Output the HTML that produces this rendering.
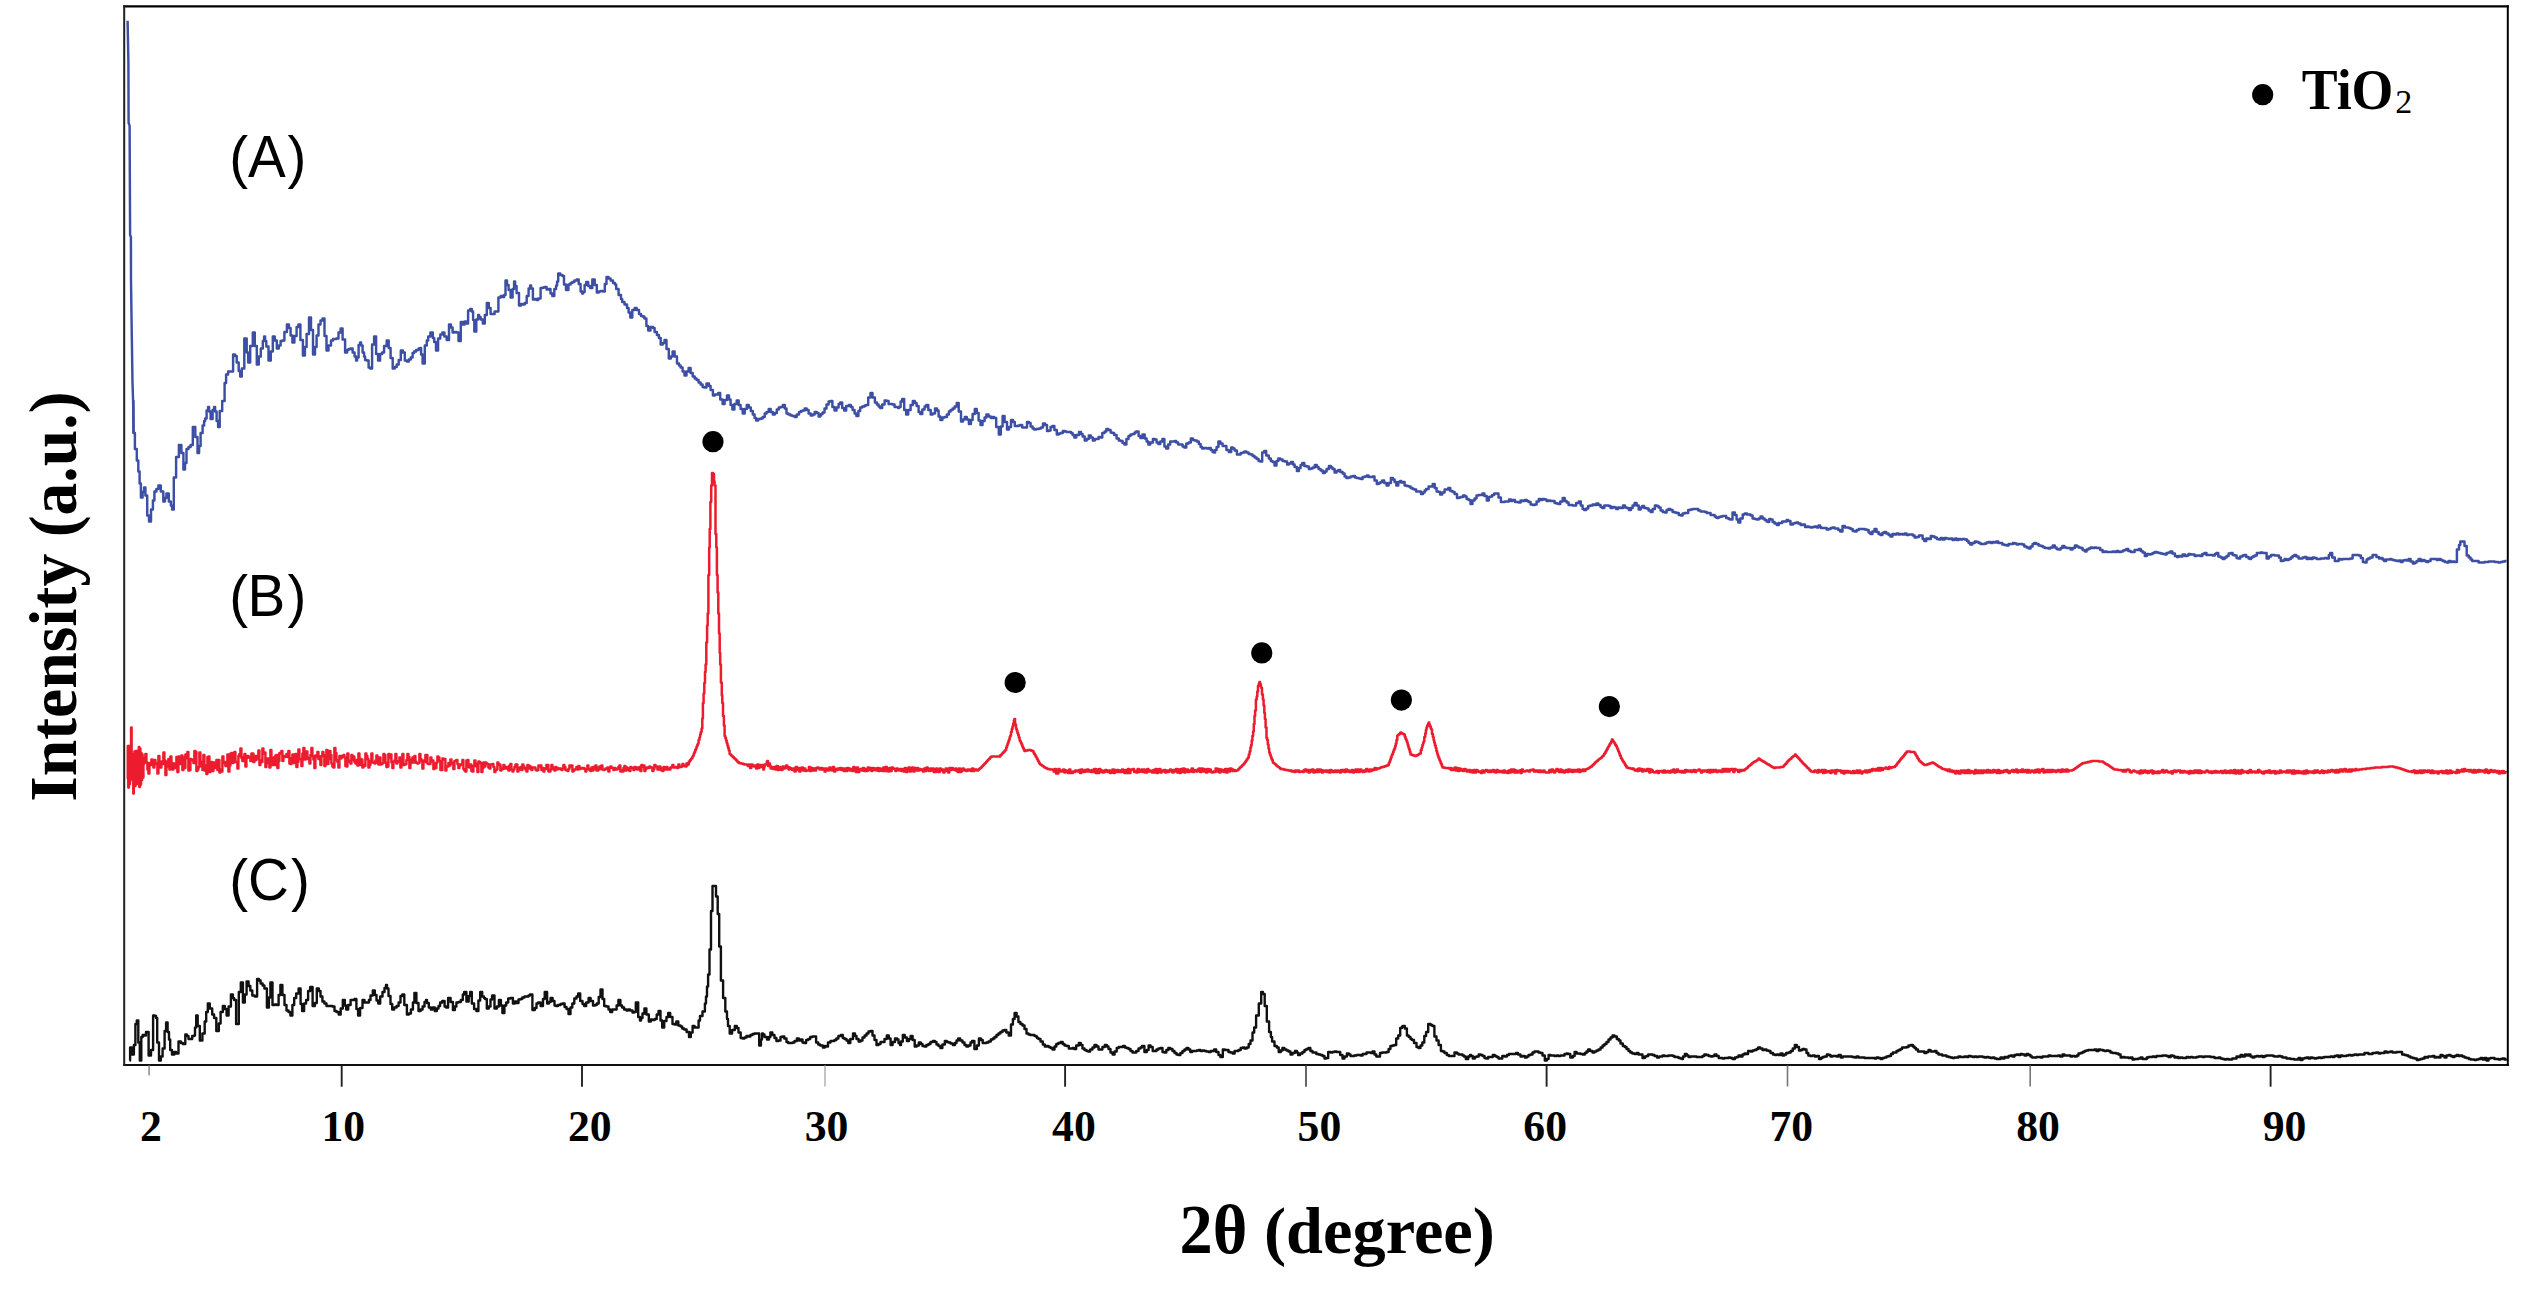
<!DOCTYPE html>
<html><head><meta charset="utf-8"><title>XRD</title>
<style>
html,body{margin:0;padding:0;background:#fff;}
body{width:2538px;height:1291px;overflow:hidden;position:relative;}
svg{position:absolute;left:0;top:0;display:block;}
</style></head><body>
<svg width="2538" height="1291" viewBox="0 0 2538 1291"><polyline fill="none" stroke="#3d4fa4" stroke-width="2.45" stroke-linejoin="round" points="127.6,20.8 128.4,62.8 128.6,123 129.6,125.6 130.1,235 130.9,237 131,280 131.5,316.3 132.5,382.7 133.1,400.8 133.7,433"/><path fill="none" stroke="#3d4fa4" stroke-width="2.45" stroke-linejoin="round" d="M133.1,401H133.4V433H134.9V449H136.8V460.5H138.3V471.5H139.6V483.5H140.9V497.5H142.6V492H144.1V487.5H145.4V495.5H147.2V515.5H149V521.5H151V509.5H152.9V500.5H154.4V491.5H156.4V489H158.4V485.5H160.8V491.5H163.3V501.5H164.9V498H166.4V493.5H168.8V501.5H170.9V505.5H172.1V509.5H173.8V477.5H176.1V457H178.9V445H181.4V453H183.4V469.5H185V463H186.5V449H188.5V447H190.6V445H192.8V427H195.3V437H197.5V453H199.1V446H200.6V433H202.6V425.5H204.1V421H205.1V418.5H206.6V410.5H208.1V407H209.1V411.5H210.6V419H212.6V410H214.1V407H215.1V411.5H216.6V421H218.1V427H219.7V411H222.2V401H224.6V383H226.1V374.5H228.1V371.5H230.6V371.5H233.1V354.5H235V356H236.7V362.5H238.7V371H240.2V376.5H241.8V368.5H244.3V338.5H246.7V352.5H248.2V362.5H250.2V346H252.8V332.5H254.8V346H256.8V364.5H258.8V356.5H260.8V348.5H262.8V341H264.1V336.5H265.1V341H266.3V346.5H268.5V360.5H270.8V351.5H272.8V336.5H274.8V340.5H276.8V348.5H278.8V345.5H280.6V341H282.4V340.5H284.4V332H286.9V324.5H288.9V328H290.6V335.5H292.4V342.5H294.4V336H296.6V327H298.4V324.5H300.4V340H302.9V355.5H304.9V347H306.6V334H309V317.5H311V330H313V354.5H315V347H316.6V335.5H318.5V324.5H320.5V320.5H322.5V318.5H324.5V336H326.5V350.5H328.5V345.5H331V340.5H333V339H334.6V339H336.5V338.5H338.5V332.5H340.6V328.5H342.6V339.5H345.1V352.5H347.1V350H348.6V349H350.6V348.5H352.6V352.5H354.6V356.5H356.1V360.5H357.1V357.5H358.6V345H360.1V342.5H361.1V345.5H362.6V352.5H364.1V356.5H365.1V360H366.6V360.5H368.6V367.5H370.1V368.5H372.1V344.5H374.1V336.5H376.1V354H378.1V360.5H380.1V354H382.1V352.5H384.1V346H386.7V340.5H388.7V348H390.6V358H392.7V368.5H394.7V367H396.7V364.5H398.7V360H400.8V350.5H402.8V352.5H404.8V360.5H406.8V361.5H408.8V359.5H410.8V357.5H412.6V353H414.1V351.5H416.1V350H418.6V348.5H420.1V348H421.1V354.5H422.6V363.5H424.8V345.5H426.8V340.5H428.2V336.5H430.4V332.5H432.8V338H434.2V342H436V350.5H438.1V338.5H440.3V334.5H442.4V332.5H444.4V336.5H446.7V340H449V324.5H450.9V327.5H452.6V332.5H454.6V332H456.5V332.5H458.5V341H460.8V322H462.8V324.5H464.6V321.5H466.1V323.5H468.1V310.5H470.2V309H471.8V311.5H473.1V320H474.3V331.5H476.3V319.5H478.1V315H479.1V317H480.6V319.5H482.8V323.5H484.8V315H486.8V303H488.8V308H490.6V314H492.6V314H494.6V311.5H496.2V311.5H498.4V297.5H500.7V296H502.6V297H504.1V295H505.5V280.5H507V285H508.6V290H510.6V297.5H512.6V289H514.1V281.5H515.1V286H516.6V293H519V305.5H521V304H522.6V304.5H524.7V303H526.7V296H528.6V288.5H530.1V285.5H531.1V288.5H532.9V299.5H534.9V299H536.6V300H538.2V298.5H540.6V288H543V287.5H544.6V287H546.6V289.5H548.5V289H550.5V293.5H552.3V296H554.3V289H556.1V285.5H557.1V281.5H558.2V273.5H560.2V275H562.4V276H564V284.5H566V290H568.4V284.5H570.6V283H572.4V282H574.4V280.5H576.7V279.5H578.7V284H580.6V291.5H582.1V293.5H583.1V292H584.6V285H586.2V282H588.2V286H590.2V288H592.3V279.5H594.7V285H596.8V292.5H598.8V291.5H600.6V291H602.8V291.5H604.8V284H606.5V277H608.5V278.5H610.6V280.5H613V283H615V284.5H616.2V289H618.6V295H621V299H622.2V302H624.5V304.5H627V308H628.6V312.5H630.3V317.5H632.3V310H634.7V308H636.7V310H639V314H641V316H642.6V316.5H644.4V318.5H646.4V326H648.2V330.5H650.5V327H653V328H654.6V332H656.9V335H658.9V338H660.7V344.5H662.7V343H664.5V340H666.5V349H668.8V358.5H670.8V356.5H672.6V351.5H674.6V356.5H677V363.5H679V365.5H680.6V367.5H682.6V371.5H684.5V375.5H686.5V371.5H688.6V368H690.6V373H692.7V376.5H694.7V378.5H696.6V380H698.6V382.5H700.6V384.5H702.6V387H704.2V387.5H706.5V383.5H709V386H710.6V390H712.9V395.5H714.9V394.5H716.6V394.5H718.2V393H720.2V399.5H722.6V404H724.6V400H727V395.5H729V399.5H730.6V405H732.4V409.5H734.4V404H736.7V400.5H738.7V405H740.6V409H742.7V413.5H744.7V409H746.8V405H748.8V407.5H750.8V411H752.8V414.5H754.6V418H756.2V420.5H758.2V419H760.6V418.5H762.7V417H764.7V413.5H766.6V412H768.7V409H770.7V412H772.8V414.5H774.8V413H776.8V409.5H778.8V407.5H780.6V407H782.8V405H784.8V408.5H786.5V413.5H788.5V414.5H790.6V415.5H792.6V416H794.7V417H796.7V414.5H799V412H801V411H802.6V410.5H804.7V408.5H806.7V410H808.6V413.5H810.7V415.5H812.7V414.5H814.7V412H816.7V413H818.6V416.5H820.1V415.5H821.1V414H822.6V412.5H824.5V408.5H826.5V404.5H828.6V401.5H830.4V401H832.4V407H834.5V410.5H836.5V407.5H838.6V404H840.2V402.5H842.2V408H844.2V410.5H846.2V406H848.9V405H850.9V407H852.6V410H854.6V413.5H856.4V416H858.4V411H860.2V407.5H862.2V406.5H864.6V405.5H866.2V405H868.2V397.5H870.5V393H872.5V397.5H874.9V402.5H876.9V404.5H878.6V406.5H880.2V408H882.2V404.5H884.6V400.5H886.6V401H888.6V404H890.5V404H892.5V404.5H894.6V407H896.6V407H898.1V408H899.1V407H900.6V401.5H902.2V399H904.2V410H906.2V414.5H908.2V410H910.6V405H912.8V401H914.8V403H916.6V406H918.6V412H920.3V414H922.3V409.5H924.6V406.5H926.3V405H928.3V410H930.7V414.5H932.7V413.5H935V408.5H937V410.5H938.6V416.5H940.4V420H942.4V417.5H944.6V417H946.9V414.5H948.9V411.5H950.6V410H952.6V408.5H954.6V406.5H956.7V403H958.7V411.5H961V421.5H963V419.5H964.8V417H966.8V419.5H968.9V424H970.9V420H972.6V414H974.8V409H976.8V413H978.6V420.5H980.5V425H982.5V421H984.6V417.5H986.4V414.5H988.6V416.5H990.8V418H992.6V417H994.2V418H996.2V427H998.8V434.5H1000.8V426.5H1002.6V416H1004.6V422H1007V429.5H1009V427H1011V420H1013V422H1014.8V426H1016.8V426H1018.6V425.5H1020.2V425H1022.2V427.5H1024.5V427.5H1027V422H1029V423H1030.6V426.5H1032.6V428.5H1034.2V429.5H1036.2V429H1038.9V428.5H1040.9V427.5H1043V423.5H1045V425H1047V431H1049V430.5H1050.6V427H1052.4V426H1054.4V430H1056.8V434.5H1058.8V433.5H1060.6V433H1062.8V431H1064.8V431.5H1066.6V432H1069V432H1071V433H1072.6V435H1074.3V437.5H1076.3V435H1079V432H1081V434H1082.6V436.5H1084.7V440.5H1086.7V439H1088.8V435.5H1090.8V437.5H1092.8V440.5H1094.8V439H1096.6V439H1098.6V437H1100.3V437.5H1102.3V433H1104.6V431.5H1106.3V429H1108.3V430H1110.6V432.5H1112.2V433H1114.2V435H1116.6V438.5H1118.8V440.5H1120.8V441H1122.6V443H1124.4V444.5H1126.4V439H1128.5V436H1130.5V434.5H1132.6V434H1134.6V432.5H1136.1V431.5H1137.1V431.5H1138.6V436H1140.4V438H1142.5V434.5H1144.7V438.5H1146.6V441.5H1148.3V444.5H1150.3V442.5H1152.9V439H1154.9V439.5H1156.6V442.5H1158.3V444H1160.3V441.5H1162.4V439H1164.4V446.5H1166.2V448.5H1168.2V444.5H1170.2V441.5H1172.2V441.5H1174.6V441H1176.2V442.5H1178.2V444.5H1180.6V444.5H1182.6V446.5H1184.3V447.5H1186.3V443.5H1188.6V442.5H1190.8V438.5H1192.8V440H1194.6V440.5H1196.8V441.5H1198.8V444H1200.6V447H1202.2V448.5H1204.2V448H1206.6V448.5H1208.8V448H1210.8V450H1212.6V452H1214.1V452.5H1215.1V450H1216.6V447H1218.4V441.5H1220.4V443.5H1222.6V446H1224.4V446H1226.4V450H1228.8V452H1231.2V447.5H1232.9V448.5H1234.6V450.5H1236.9V454.5H1238.9V454.5H1240.6V453H1242.6V452.5H1244.4V451.5H1246.4V452.5H1248.6V454H1250.6V454.5H1252.6V456H1254.6V457.5H1256.6V459H1258.6V461H1260.2V461.5H1262.2V452.5H1264.2V451H1266.2V455.5H1268.8V458.5H1270.8V461H1272.6V462H1274.5V465.5H1276.5V461H1278.3V458.5H1280.3V459.5H1282.6V461H1284.8V461.5H1287.1V464.5H1288.9V463.5H1291V462H1293V464.5H1294.6V467H1296.9V471H1298.9V468H1300.6V465H1302.3V463H1304.3V466H1306.6V466.5H1308.8V469H1310.8V468.5H1312.6V467.5H1314.8V465H1316.8V467H1318.6V469H1320.6V470.5H1322.9V473H1324.9V471.5H1326.6V469H1328.9V466H1330.9V467.5H1332.6V469H1334.6V472.5H1336.6V471H1338.3V470H1340.3V472H1342.6V473.5H1344.6V476.5H1346.5V478H1348.5V477.5H1350.6V476.5H1353V476H1355V477.5H1356.6V478H1359V478.5H1361V479H1362.6V477H1364.9V476.5H1366.9V475.5H1368.6V477H1370.6V477H1372.5V476.5H1374.5V480.5H1376.8V484H1378.8V483H1380.6V482H1382.2V480.5H1384.2V483H1386.6V485.5H1388.6V483H1390.9V478H1392.9V479.5H1394.6V482H1396.3V485.5H1398.3V482H1400.1V481H1401.1V482.5H1402.6V482H1404.6V485.5H1406.7V486H1408.7V486.5H1410.6V488H1412.6V489H1414.2V489.5H1416.2V491.5H1418.6V491.5H1421V494H1423V492.5H1424.6V490.5H1426.1V489H1427.1V489H1428.6V486.5H1430.6V486.5H1432.7V484H1434.7V488H1436.6V491.5H1438.6V492H1440.2V494.5H1442.2V492.5H1444.6V489.5H1446.6V489.5H1448.3V488H1450.3V491H1452.6V492H1454.6V494H1457V498H1459V497.5H1460.6V497H1463V495.5H1465V496.5H1466.6V499H1468.6V500H1470.5V504H1472.5V500.5H1474.6V498.5H1476.5V495.5H1478.5V495H1480.6V495H1482.4V493.5H1484.4V496H1486.8V500.5H1488.8V497H1490.6V496.5H1492.2V495H1494.2V493.5H1496.5V493.5H1498.5V497.5H1500.9V502H1502.9V502H1504.6V501.5H1506.6V501.5H1509V499.5H1511V501H1512.6V500H1515V502H1517V502H1518.6V502.5H1520.6V500.5H1522.6V501H1524.8V500H1526.8V501H1528.6V502H1530.6V504.5H1532.8V505H1534.8V504.5H1536.6V501.5H1538.8V499H1540.8V500H1542.6V499H1544.6V499.5H1546.6V501H1548.5V500.5H1550.5V501H1552.6V501H1554.6V503H1556.6V503.5H1558.3V504H1560.3V501.5H1562.7V498H1564.7V501H1566.6V502.5H1568.6V505H1570.6V505H1572.6V505.5H1574.2V505.5H1576.2V503H1578.8V501.5H1580.8V505.5H1582.6V509H1584.2V510H1586.2V508.5H1588.2V506H1590.2V505.5H1592.6V504.5H1594.6V505H1596.4V503.5H1598.4V505H1600.6V507H1602.3V508H1604.3V505.5H1606.7V505.5H1608.7V506H1610.6V508H1612.6V507H1614.6V507.5H1616.2V509H1618.2V507.5H1620.6V508H1623V505.5H1625V507.5H1626.6V508H1628.9V510H1630.9V508H1632.6V505.5H1634.6V503H1636.6V505.5H1638.7V509.5H1640.7V507.5H1642.2V506H1644.2V508H1646.6V508.5H1648.6V510.5H1650.6V512H1652.6V509H1654.9V505.5H1656.9V506H1658.6V507.5H1660.6V510.5H1662.8V512H1664.8V512.5H1666.6V510H1668.4V509H1670.4V510H1672.6V512H1674.6V512.5H1676.6V513H1678.8V515H1680.8V515.5H1682.6V513.5H1684.6V513H1686.3V513H1688.2V510H1690.5V509.5H1692.6V509H1694.6V509H1696.3V509H1698.3V510.5H1700.6V511.5H1702.6V511.5H1704.8V512H1706.8V513H1708.6V513H1710.6V515H1712.6V515H1714.6V516.5H1716.1V517.5H1717.1V518H1718.6V517H1720.6V516.5H1722.6V516H1724.2V516H1726.2V518H1728.6V519H1730.2V519.5H1732.5V512.5H1734.9V515H1736.6V519.5H1738.3V522.5H1740.3V518.5H1742.7V514.5H1744.7V513.5H1747V514.5H1749V514.5H1750.6V515.5H1752.6V518.5H1754.6V519H1756.8V519.5H1758.8V518.5H1760.5V516.5H1762.5V518.5H1764.6V520H1766.6V521.5H1768.1V522H1769.2V519H1770.7V519.5H1772.6V522H1774.6V523.5H1776.8V525H1778.8V523H1780.6V523H1782.2V521.5H1784.2V521.5H1786.6V520H1788.2V521H1790.5V524.5H1792.9V523.5H1794.6V523H1796.3V522.5H1798.3V523.5H1800.6V525H1802.6V524.5H1805V527H1807V526.5H1808.6V527H1810.6V527.5H1812.6V527H1814.6V526.5H1816.6V527.5H1818.6V525.5H1820.1V527H1821.1V528H1822.6V528H1824.6V528H1826.7V529.5H1828.7V529H1830.6V528H1832.6V527.5H1834.6V528.5H1836.3V528.5H1838.3V530H1840.2V531.5H1842.5V526H1844.9V527.5H1846.6V527.5H1848.6V528H1850.6V529H1852.7V531H1854.7V531.5H1856.6V530H1858.8V529H1860.8V529H1862.6V529H1864.8V529.5H1866.8V530H1868.6V532.5H1870.4V534H1872.4V531.5H1874.5V529H1876.5V532H1878.6V534H1880.4V535H1882.4V533H1884.2V532H1886.2V533.5H1888.6V535H1890.4V536.5H1892.4V534H1894.5V534.5H1896.5V533.5H1898.6V534.5H1900.6V534H1902.6V534.5H1904.6V533.5H1906.6V535H1908.6V534.5H1910.8V534.5H1912.8V535.5H1914.6V537.5H1916.6V537H1918.9V535.5H1920.9V535.5H1922.6V539H1924.3V541H1926.3V538.5H1928.6V539H1930.8V536H1932.8V536.5H1934.6V537.5H1936.8V539H1938.8V539.5H1940.6V538H1942.6V539.5H1944.6V538H1946.5V538.5H1948.5V539H1950.6V538.5H1952.6V540H1954.1V539.5H1955.1V538.5H1956.6V540H1958.6V539H1960.6V539.5H1962.6V539H1965V539.5H1967V541H1968.6V543H1970.3V544.5H1972.3V543H1974.7V541.5H1976.7V542H1978.6V543H1980.6V544H1982.8V544H1984.8V543.5H1986.6V542.5H1988.6V542H1990.6V543H1992.6V542H1994.6V542.5H1996.3V541.5H1998.3V543H2000.6V543H2002.3V544.5H2004.3V545H2006.6V545.5H2008.6V544H2011V544H2013V543H2014.6V543.5H2016.6V544.5H2018.6V544H2020.6V544H2022.3V544.5H2024.3V546.5H2026.6V547.5H2028.6V548.5H2030.6V546.5H2032.6V544H2034.2V543H2036.2V544H2038.6V545.5H2040.8V546H2042.8V547H2044.6V548H2046.6V548H2048.3V548.5H2050.3V547.5H2052.8V545.5H2054.8V547.5H2056.6V549H2058.1V549.5H2059.1V549.5H2060.6V548H2062.4V546H2064.4V547.5H2066.6V548H2068.6V548H2070.6V549.5H2072.6V548H2074.9V545.5H2076.9V546.5H2078.6V547.5H2080.6V548H2082.6V550H2084.1V550.5H2085.1V551.5H2086.6V549.5H2088.6V548.5H2090.6V547.5H2092.6V548H2094.6V547.5H2096.6V548H2098.2V548H2100.2V550H2102.6V552H2104.6V551.5H2106.6V552H2108.6V552H2110.6V552H2112.6V551.5H2114.6V552H2116.6V551H2118.6V552H2121V551.5H2123V550.5H2124.6V550H2126.3V549H2128.3V551H2130.8V552H2132.8V552H2134.6V550H2136.6V550H2138.8V549H2140.8V551H2142.6V552.5H2144.8V556H2146.8V554H2148.8V554.5H2150.8V554H2152.6V553H2154.7V552H2156.7V552.5H2158.6V553H2160.6V553.5H2162.6V554H2164.1V554H2165.1V554.5H2166.6V553H2168.6V552.5H2170.3V551.5H2172.3V553.5H2174.9V556H2176.9V557H2178.6V556H2180.6V556.5H2182.6V554.5H2185V556H2187V555.5H2188.5V554H2190.5V554.5H2192.6V554.5H2194.6V556H2196.6V555.5H2198.6V555.5H2200.3V556H2202.3V554H2204.5V553H2206.5V555H2208.6V555H2210.6V555H2212.8V555.5H2214.8V554H2216.3V553H2218.3V556.5H2220.6V557.5H2222.6V559H2224.6V557.5H2226.6V556H2228.6V553.5H2230.6V553H2232.6V555H2234.6V555.5H2236.6V558H2238.2V558.5H2240.2V556.5H2242.6V555.5H2244.2V555H2246.2V557H2248.6V558.5H2250.1V559H2251.1V557.5H2252.6V556.5H2254.6V555.5H2256.8V553H2258.8V553H2260.6V552.5H2262.6V553H2264.4V553H2266.6V558.5H2268.8V556.5H2271.1V555H2273.1V555H2274.6V555.5H2276.9V555.5H2278.9V557.5H2280.8V561H2282.8V560.5H2284.6V559H2286.6V560H2288.8V559H2290.8V557.5H2292.6V556H2294.3V555H2296.3V556.5H2298.6V558.5H2300.6V558.5H2302.6V557.5H2304.6V557H2306.6V559H2308.6V558H2310.6V559H2312.6V557.5H2314.6V558H2316.6V559H2318.6V559H2320.6V558.5H2322.6V558.5H2324.6V558H2326.8V558.5H2328.8V555H2330.2V553H2332.2V557.5H2334.8V561H2336.8V561H2338.6V559H2340.6V559.5H2342.6V559H2344.6V559H2346.6V559H2348.6V559H2350.4V558.5H2352.6V555H2354.8V555H2356.6V555H2358.8V555.5H2360.8V558H2362.9V562H2364.9V562.5H2366.6V559.5H2368.1V558.5H2370.1V557.5H2372.6V555H2374.4V555H2376.4V557H2379V558.5H2381V558H2382.6V559.5H2384.1V561H2386.1V559.5H2388.6V559.5H2390.1V559H2391.1V559.5H2392.6V560H2394.6V560.5H2396.7V561H2398.7V560.5H2400.6V562H2402.6V560.5H2404.6V560H2406.6V560.5H2408.6V559H2410.6V561.5H2412.8V563.5H2414.8V562.5H2416.6V561H2418.6V559H2420.6V561H2422.6V560H2424.6V561H2426.3V562H2428.3V561H2430.6V559H2432.6V559H2434.7V559H2436.7V560H2438.6V559H2440.6V560H2442.6V561H2444.8V562H2446.8V562.5H2448.6V561H2450.6V562H2452.6V561.5H2454.5V562H2456.9V549.5H2459V545H2460.3V541.5H2462.2V541.5H2464.5V546H2466.7V555.5H2468.7V557.5H2470.6V559.5H2472.2V561H2474.2V561H2476.6V561H2478.6V562.5H2480.6V562.5H2482.6V562.5H2484.4V562H2486.4V562H2488.6V561.5H2490.6V561.5H2492.6V561.5H2494.6V562H2496.3V562H2498.3V562.5H2500.6V562H2502.6V561.5H2505.1V561H2506.5"/><path fill="none" stroke="#ec1c2e" stroke-width="2.5" stroke-linejoin="round" d="M127.5,779H127.8V746H128.3V787.5H128.9V746H129.4V784H130V754H130.5V778.5H131.1V727.5H131.6V779H132.2V754H132.7V780.5H133.3V793.5H133.8V782.5H134.4V751.5H134.9V786H135.5V751H136V784H136.6V751H137.1V784H137.7V751.5H138.2V780.5H138.8V747H139.3V787H139.9V748.5H140.4V784.5H141V753H141.5V780H142.1V754.5H142.6V777.5H143.4V763.5H144.4V758H145.4V754H146.4V762.5H147.4V769.5H148.4V773.5H149.4V763H150.4V765H151.4V759.5H152.4V760H153.4V767.5H154.4V760H155.4V763H156.4V764H157.4V773.5H158.4V756H159.4V765.5H160.4V767.5H161.4V761.5H162.4V764H163.4V752.5H164.4V760.5H165.4V775H166.4V766.5H167.4V761.5H168.4V759H169.4V769.5H170.4V756.5H171.4V763H172.4V769.5H173.4V763.5H174.4V768H175.4V766H176.4V757H177.4V772H178.4V756.5H179.4V757.5H180.4V764H181.4V755.5H182.4V770H183.4V757.5H184.4V768H185.4V754.5H186.4V758H187.4V752H188.4V770.5H189.4V770H190.4V759H191.4V759.5H192.4V760H193.4V763H194.4V751H195.4V752H196.4V771H197.4V769.5H198.4V767H199.4V752.5H200.4V766H201.4V762H202.4V770H203.4V755H204.4V770.5H205.4V765.5H206.4V774H207.4V757H208.4V756.5H209.4V772H210.4V770H211.4V762H212.4V771H213.4V765.5H214.4V762.5H215.4V768H216.4V760H217.4V770H218.4V760H219.4V772.5H220.4V769.5H221.4V771.5H222.4V756.5H223.4V763H224.4V762H225.4V766H226.4V763.5H227.4V754.5H228.4V771.5H229.4V765.5H230.4V753.5H231.4V753H232.4V763H233.4V760H234.4V752H235.4V762H236.4V762H237.4V768.5H238.4V756H239.4V754H240.4V748.5H241.4V758H242.4V761H243.4V757H244.4V754H245.4V766.5H246.4V758H247.4V756H248.4V757.5H249.4V757H250.4V761H251.4V753.5H252.4V753.5H253.4V762H254.4V756H255.4V760H256.4V756H257.4V758.5H258.4V750.5H259.4V765H260.4V760.5H261.4V762H262.4V748.5H263.4V753.5H264.4V752.5H265.4V767H266.4V763H267.4V758.5H268.4V759.5H269.4V767.5H270.4V750H271.4V758H272.4V765H273.4V757.5H274.4V765H275.4V755.5H276.4V755H277.4V768H278.4V761H279.4V753H280.4V753.5H281.4V751H282.4V761H283.4V756H284.4V757H285.4V756H286.4V754H287.4V757H288.4V751H289.4V763.5H290.4V764H291.4V758H292.4V754.5H293.4V763H294.4V755.5H295.4V754H296.4V767H297.4V762H298.4V749.5H299.4V759H300.4V759H301.4V766H302.4V753.5H303.4V748H304.4V759.5H305.4V757.5H306.4V751.5H307.4V759H308.4V758H309.4V763.5H310.4V755H311.4V748H312.4V756H313.4V759.5H314.4V768H315.4V755.5H316.4V756.5H317.4V752H318.4V759H319.4V756.5H320.4V765H321.4V756H322.4V752H323.4V755H324.4V766H325.4V762.5H326.4V750H327.4V764H328.4V759H329.4V751H330.4V755H331.4V763.5H332.4V766.5H333.4V767.5H334.4V748H335.4V753H336.4V760H337.4V762H338.4V767.5H339.4V756H340.4V758.5H341.4V756H342.4V757H343.4V755H344.4V757.5H345.4V766H346.4V766.5H347.4V753.5H348.4V760.5H349.4V761.5H350.4V763.5H351.4V755H352.4V760H353.4V756.5H354.4V762H355.4V763.5H356.4V760H357.4V765.5H358.4V753.5H359.4V758.5H360.4V765H361.4V759.5H362.4V767.5H363.4V765H364.4V766H365.4V753.5H366.4V756H367.4V759H368.4V767.5H369.4V765H370.4V761H371.4V753.5H372.4V762.5H373.4V762.5H374.4V763.5H375.4V760.5H376.4V755.5H377.4V762.5H378.4V764.5H379.4V757.5H380.4V764.5H381.4V764H382.4V763H383.4V754H384.4V755H385.4V762.5H386.4V767H387.4V766.5H388.4V754H389.4V758H390.4V754.5H391.4V762.5H392.4V768H393.4V761.5H394.4V760.5H395.4V754H396.4V763.5H397.4V761.5H398.4V761H399.4V757.5H400.4V767.5H401.4V760H402.4V754H403.4V765H404.4V764.5H405.4V764H406.4V760H407.4V754H408.4V757H409.4V768H410.4V763H411.4V759.5H412.4V757.5H413.4V762.5H414.4V756H415.4V761.5H416.4V763H417.4V763.5H418.4V763H419.4V754H420.4V759H421.4V761H422.4V768.5H423.4V760.5H424.4V762H425.4V755H426.4V755H427.4V763.5H428.4V764H429.4V764H430.4V757.5H431.4V761.5H432.4V760.5H433.4V769H434.4V763.5H435.4V768H436.4V762.5H437.4V756.5H438.4V757.5H439.4V761H440.4V770H441.4V770H442.4V758.5H443.4V759.5H444.4V759H445.4V770.5H446.4V766.5H447.4V766.5H448.4V763H449.4V765.5H450.4V759.5H451.4V763.5H452.4V763H453.4V769H454.4V761H455.4V760.5H456.4V760H457.4V764H458.4V768H459.4V765.5H460.4V764.5H461.4V764H462.4V760H463.4V769H464.4V770.5H465.4V771.5H466.4V760.5H467.4V760H468.4V767H469.4V767.5H470.4V764.5H471.4V771H472.4V771.5H473.4V766H474.4V760.5H475.4V763.5H476.4V766.5H477.4V772H478.4V761.5H479.4V762H480.4V763H481.4V772H482.4V768H483.4V762.5H484.4V766.5H485.4V762.5H486.4V763.5H487.4V764H488.4V767.5H489.4V768.5H490.4V764.5H491.4V764.5H492.4V764H493.4V767H494.4V772H495.4V770H496.4V769.5H497.4V762.5H498.4V765H499.4V764.5H500.4V770.5H501.4V768H502.4V769H503.4V765H504.4V768.5H505.4V767H506.4V768.5H507.4V767H508.4V770.5H509.4V765.5H510.4V764H511.4V769.5H512.4V771.5H513.4V769.5H514.4V767H515.4V764.5H516.4V764.5H517.4V771.5H518.4V768H519.4V769.5H520.4V767H521.4V770H522.4V764.5H523.4V766.5H524.4V768H525.4V769.5H526.4V771.5H527.4V765H528.4V768.5H529.4V766H530.4V767H531.4V770H532.4V767.5H533.4V767.5H534.4V767.5H535.4V769.5H536.4V770.5H537.4V770H538.4V765.5H539.4V766.5H540.4V765.5H541.4V770H542.4V768H543.4V771.5H544.4V768.5H545.4V769H546.4V765H547.4V765H548.4V771.5H549.4V771.5H550.4V769.5H551.4V765H552.4V767.5H553.4V769H554.4V770.5H555.4V767H556.4V769.5H557.4V768H558.4V768.5H559.4V769H560.4V768.5H561.4V770H562.4V768.5H563.4V765H564.4V767H565.4V770H566.4V770H567.4V771H568.4V769H569.4V765.5H570.4V766.5H571.4V765.5H572.4V771.5H573.4V770.5H574.4V769.5H575.4V769H576.4V767H577.4V769.5H578.4V766H579.4V769H580.4V768H581.4V768H582.4V768.5H583.4V768H584.4V769H585.4V771.5H586.4V769H587.4V765.5H588.4V769H589.4V770H590.4V771H591.4V767.5H592.4V770.5H593.4V767H594.4V769H595.4V765.5H596.4V770.5H597.4V770.5H598.4V767.5H599.4V766.5H600.4V769H601.4V765.5H602.4V769.5H603.4V770H604.4V769.5H605.4V768.5H606.4V769H607.4V767.5H608.4V771.5H609.4V768H610.4V766.5H611.4V767.5H612.4V768H613.4V770H614.4V768H615.4V769H616.4V769.5H617.4V768.5H618.4V767H619.4V765.5H620.4V771.5H621.4V770.5H622.4V771.5H623.4V768H624.4V766H625.4V770.5H626.4V767.5H627.4V770H628.4V768.5H629.4V771H630.4V767H631.4V768H632.4V768H633.4V770H634.4V767H635.4V769H636.4V767.5H637.4V769.5H638.4V769H639.4V767H640.4V771H641.4V765H642.4V767H643.4V765.5H644.4V771H645.4V769H646.4V767.5H647.4V767.5H648.4V768H649.4V766.5H650.4V767.5H651.4V767.5H652.4V771H653.4V769H654.4V765H655.4V766.5H656.4V766.5H657.4V769.5H658.4V767H659.4V766.5H660.4V770H661.4V768.5H662.4V771H663.4V767H664.4V768H665.4V769.5H666.4V767H667.4V769.5H668.4V768.5H669.4V769.5H670.4V767.5H671.4V767H672.4V765H673.4V767.5H674.4V767.5H675.4V767H676.4V767H677.4V768H678.4V764.5H679.4V766.5H680.4V767H681.4V766.5H682.4V764H683.4V765.5H684.4V766H685.4V766.5H686.4V763.5H687.4V764H687.2V765.5H687.2V764H688V764.5H688.8V761.5H690V760H691V759H691.7V758H692.5V756.5H693.2V755.5H693.8V753.5H694.5V752H695.2V750H695.9V748.5H696.6V746.5H697.3V745H697.9V743.5H698.6V740H699.4V737.5H700.1V734.5H700.8V732H701.6V728.5H702.3V718.5H702.9V703H703.6V693.5H704.3V683H705V672H705.6V664.5H706.3V642.5H707.1V625.5H707.7V613.5H708.4V575H709.2V547.5H709.7V529H710.4V502H711.2V485.5H712V473H712.8V473.5H713.3V474H714V481.5H714.6V485.5H715.5V534H716.3V547.5H716.9V575H717.6V592.5H718.3V613.5H719V633.5H719.7V653H720.2V664.5H720.9V682.5H721.8V695.5H722.3V703H723V716H723.9V725.5H724.6V736H725.3V738H726V740.5H726.7V743H727.4V745.5H728.1V748H728.8V750.5H729.6V754H730.3V754.5H730.9V755H731.6V756H732.3V756.5H733V757H733.7V758H734.4V758.5H735.1V759H735.8V760H736.5V760.5H737.2V761.5H737.9V762H738.7V763H739.4V763H740V763H740.7V763.5H741.4V763.5H742.1V763.5H742.8V764H743.5V764H744.2V764.5H744.9V764.5H745.6V764.5H746.5V764.5H747.7V766H748.8V765.5H749.4V764.5H750.1V768H751.3V764.5H752.5V765.5H753.7V766.5H754.9V765.5H756.1V768.5H757.3V764.5H758.5V768H759.4V766.5H760V765H760.9V767H762.1V765H763.3V769.5H764V767H764.6V764.5H765.7V764.5H766.8V761.5H767.4V761H768.1V766H769.3V763.5H770V766H770.6V768.5H771.7V767H772.4V768H773V769H774.1V767H775.3V769.5H776.5V766H777.7V770H778.9V767H780.1V769.5H781.3V770H782.5V766.5H783.7V768.5H784.9V768H786.1V765.5H787.3V767H788.5V769.5H789.6V767.5H790V769H790.2V768H790.9V768.5H792.1V770H793.3V768.5H794.5V771.5H795.7V767H796.9V770H798.1V768H799.3V771.5H800.5V768H801.7V767.5H802.9V770.5H804.1V768.5H805.3V771H806.5V770.5H807.7V770.5H808.9V767H810.1V771H811.3V768H812.5V770.5H813.7V768.5H814.9V770.5H816.1V768H817.3V767.5H818.5V768.5H819.7V769.5H820.9V768H822.1V769.5H823.3V768.5H824.5V771.5H825.7V768.5H826.9V770H828.1V770.5H829.3V767.5H830.5V769H831.7V770.5H832.9V767H834.1V771.5H835.3V769H836.5V770H837.7V768.5H838.9V769.5H840.1V768H841.3V770H842.5V768.5H843.7V771H844.9V768.5H846.1V771H847.3V768H848.5V768.5H849.7V770.5H850.9V769H852.1V771H853.3V767H854.5V768.5H855.7V772H856.9V767.5H858.1V772H859.3V770H860.5V769H861.7V770.5H862.9V768H864.1V771H865.3V769H866.5V771H867.7V767.5H868.9V770H870.1V768H871.3V771H872.5V768H873.7V770H874.9V768.5H876.1V770.5H877.3V768H878.5V771H879.7V768.5H880.9V770.5H882.1V771H883.3V767.5H884.5V771H885.7V767H886.9V771H888.1V771.5H889.3V768H890.5V771H891.7V767.5H892.9V768.5H894.1V769H895.3V771H896.5V768.5H897.7V769H898.9V770.5H900.1V769H901.3V771H902.5V769H903.7V771.5H904.9V768H906.1V772H907.3V770.5H908.5V767.5H909.7V771.5H910.9V768H912.1V767.5H913.3V771.5H914.5V768H915.7V770.5H916.9V768H918.1V770.5H919.3V769H920.5V770H921.7V769.5H922.9V771.5H924.1V768.5H925.3V771H926.5V767.5H927.7V769.5H928.9V771H930.1V768.5H931.3V770.5H932.5V768.5H933.7V772H934.9V772H936.1V768.5H937.3V771.5H938.5V772H939.7V768.5H940.9V770.5H942.1V769.5H943.3V772.5H944.5V770.5H945.7V768.5H946.9V771H948.1V772.5H949.3V768H950.5V770H951.7V768H952.9V769.5H954.1V770H955.3V768.5H956.5V771H957.7V772H958.9V768.5H960.1V772H961.3V771H962.5V768.5H963.7V769.5H964.9V770.5H966.1V771H967.3V769.5H968.5V770.5H969.7V769.5H970.9V771H972.1V768.5H973.3V771H974.5V769.5H975.7V769.5H976.9V770.5H978.1V770H978.7V769.5H979.3V768.5H980.3V768H981V767.5H981.7V766.5H982.4V766H983.1V765H983.8V764.5H984.5V763.5H985.3V763H986V762H986.6V761.5H987.3V760.5H988V760H988.7V759H989.4V758.5H990.1V757.5H990.8V757H991.4V756.5H992.1V756.5H992.9V756.5H993.6V756.5H994.3V756.5H995V756.5H995.7V756.5H996.4V756.5H997.1V756.5H997.8V756.5H998.5V756.5H999.2V756.5H999.7V756.5H1000.4V755H1001.3V754.5H1002V753.5H1002.7V753H1003.4V752H1004.1V751.5H1004.8V750.5H1005.5V750H1006.2V747.5H1006.9V745.5H1007.6V743.5H1008.3V741.5H1009V739.5H1009.7V737H1010.3V735.5H1011V732H1011.8V729H1012.5V726.5H1013.2V723.5H1013.9V720.5H1014.4V719H1015.1V724.5H1016V728.5H1016.7V730.5H1017.4V733H1018.1V735H1018.8V737.5H1019.6V740.5H1020.3V741.5H1020.9V743H1021.6V744.5H1022.3V746.5H1023V748H1023.7V749.5H1024.4V751H1025.1V751H1025.8V750.5H1026.5V750.5H1027.2V750.5H1027.9V750H1028.6V750H1029.2V750H1029.9V750H1030.7V750.5H1031.4V750.5H1032.1V751H1032.7V751H1033.4V752.5H1034.2V754H1034.9V755H1035.6V756.5H1036.3V757.5H1037V759H1037.7V760.5H1038.4V761.5H1039.1V763H1039.7V764H1040.4V764.5H1041.2V765H1041.9V765.5H1042.6V766H1043.3V766.5H1044V767H1044.7V767.5H1045.4V768H1046.1V768H1046.8V768.5H1047.5V769H1048.2V769H1048.9V769H1049.6V769.5H1050.3V769.5H1051.2V769.5H1052.4V769.5H1053.6V771.5H1054.8V769H1056V773.5H1057.2V771H1057.8V773.5H1058.4V769H1059.6V771.5H1060.8V770.5H1062V771.5H1063.2V769.5H1064.4V772.5H1065.6V770.5H1066.8V771H1068V773H1069.2V769.5H1070.4V773H1071.6V773H1072.8V771.5H1074V772H1075.2V770.5H1076.4V771H1077.6V771.5H1078.8V770H1080V773H1081.2V769.5H1082.4V772H1083.6V772H1084.8V770H1086V771.5H1087.2V769.5H1088.4V771.5H1089.6V770.5H1090.8V772H1092V770H1093.2V772H1094.4V769H1095.6V773H1096.8V769.5H1098V773H1099.2V769H1100.4V772H1101.6V770.5H1102.8V772.5H1104V772H1105.2V770H1106.4V770.5H1107.6V772H1108.8V770.5H1110V773H1111.2V772.5H1112.4V769.5H1113.6V773H1114.8V770H1116V772H1117.2V770H1118.4V772H1119.6V770.5H1120.8V772H1122V769.5H1123.2V770.5H1124.4V773H1125.6V770H1126.8V773H1128V769H1129.2V773H1130.4V770H1131.6V769.5H1132.8V769H1134V772H1135.2V771H1136.4V772.5H1137.6V769H1138.8V772H1140V771.5H1141.2V769.5H1142.4V772H1143.6V769.5H1144.8V772.5H1146V772.5H1147.2V769H1148.4V771.5H1149.6V770.5H1150.8V771.5H1152V772.5H1153.2V770H1154.4V772.5H1155.6V769H1156.8V773H1158V769.5H1159.2V769H1160.4V772.5H1161.6V770.5H1162.8V771.5H1164V770H1165.2V772.5H1166.4V770.5H1167.6V772H1168.8V770.5H1170V769.5H1171.2V771.5H1172.4V772.5H1173.6V770H1174.8V771.5H1176V769H1177.2V772.5H1178.4V769.5H1179.6V773H1180.8V769H1182V772H1183.2V768.5H1184.4V772.5H1185.6V769.5H1186.8V769.5H1188V772H1189.2V770.5H1190.4V771.5H1191.6V768.5H1192.8V772H1194V770H1195.2V771H1196.4V771.5H1197.6V769.5H1198.8V768.5H1200V772H1201.2V768.5H1202.4V771.5H1203.6V769H1204.8V771.5H1206V772.5H1207.2V769H1208.4V771.5H1209.6V769.5H1210.8V772H1212V772.5H1213.2V771.5H1214.4V772H1215.6V768.5H1216.8V771.5H1218V769H1219.2V772.5H1220.4V769.5H1221.6V771.5H1222.8V770H1224V772H1225.2V769H1226.4V772.5H1227.6V769H1228.8V771.5H1230V768.5H1231.2V769H1232.4V771H1233.6V770H1234.8V771H1236V770.5H1237V770.5H1237.7V770H1238.4V769H1239.1V768.5H1239.8V767.5H1240.5V767H1241.2V766.5H1241.9V765.5H1242.6V765H1243.2V764.5H1243.9V763.5H1244.7V762.5H1245.4V761.5H1246.1V760.5H1246.8V759.5H1247.5V758.5H1248.1V757.5H1248.8V754.5H1249.6V751.5H1250.4V747.5H1251.1V745H1251.7V740.5H1252.4V736H1253.1V731.5H1253.8V724H1254.5V716H1255.1V710.5H1255.9V699.5H1256.7V696.5H1257.3V691.5H1258V686H1258.7V684H1259.4V682H1260.1V684H1260.8V686.5H1261.3V688H1262V694.5H1262.9V699.5H1263.6V705.5H1264.3V713H1264.9V719H1265.6V727.5H1266.5V738H1267.2V740H1267.8V744.5H1268.5V748.5H1269.2V752.5H1269.9V754.5H1270.6V756.5H1271.3V758.5H1272V760H1272.8V762.5H1273.5V763H1274.1V763.5H1274.8V764H1275.5V764.5H1276.2V765.5H1276.9V766H1277.6V766.5H1278.3V767H1279V767.5H1279.7V768H1280.4V769H1281.1V769H1281.8V769H1282.5V769H1283.2V769.5H1283.9V769.5H1284.6V769.5H1285.3V770H1286V770H1286.7V770H1287.4V770H1288.1V770.5H1288.8V770.5H1289.5V770.5H1290.2V771H1290.9V770.5H1291.8V771.5H1292.7V771.5H1293.3V771H1294.2V772H1295.4V770.5H1296.6V771.5H1297.8V770.5H1299V772H1300.2V771.5H1301.4V771.5H1302.6V772H1303.8V770H1305V769.5H1306.2V771.5H1307.4V770H1308.6V772.5H1309.8V770H1311V771.5H1312.2V769.5H1313.4V772.5H1314.6V770.5H1315.8V772H1317V769.5H1318.2V772H1319.4V769.5H1320.6V770H1321.8V772.5H1323V770.5H1324.2V771.5H1325.4V770.5H1326.6V772H1327.8V770.5H1329V772.5H1330.2V770H1331.4V772H1332.6V771H1333.8V772H1335V770.5H1336.2V772H1337.4V770.5H1338.6V771H1339.8V772.5H1341V770H1342.2V771.5H1343.4V770H1344.6V772H1345.8V769.5H1347V771.5H1348.2V770.5H1349.4V772H1350.6V772H1351.8V770H1353V772.5H1354.2V771.5H1355.4V769.5H1356.6V772H1357.8V769.5H1359V772H1359.8V771H1360.4V769.5H1361.4V771H1362.6V772H1363.8V770.5H1365V771.5H1366.2V769H1367.4V770.5H1368.6V771.5H1369.8V769.5H1371V771H1371.7V770.5H1372.3V769.5H1373.4V770H1374.6V768H1375.8V769.5H1377V768.5H1378.2V768.5H1379.4V768H1380.4V767.5H1381V767.5H1381.7V767H1382.5V767H1383.2V767H1383.9V766.5H1384.6V766.5H1385.3V766H1386V766H1386.7V765.5H1387.4V765.5H1388.1V765H1388.8V763H1389.5V761.5H1390.2V759.5H1390.9V757.5H1391.6V755.5H1392.3V754H1393V752H1393.7V750H1394.4V748.5H1395.1V746H1395.8V743.5H1396.5V740H1397.3V735.5H1398V735H1398.6V734.5H1399.3V734H1400V733H1400.6V732.5H1401.3V733H1402.1V733.5H1402.8V734H1403.5V734H1404.1V734.5H1404.8V737H1405.6V739H1406.3V740.5H1407V742.5H1407.7V745H1408.4V747.5H1409.1V749.5H1409.8V752H1410.5V754.5H1411.2V754.5H1411.9V755H1412.6V755H1413.3V755.5H1414V755.5H1414.7V756H1415.3V756H1416V755.5H1416.8V755.5H1417.5V755H1418.2V754.5H1418.9V754H1419.6V753.5H1420.1V753.5H1420.8V750H1421.7V747.5H1422.4V745H1423.1V743H1423.6V741.5H1424.3V737H1425.2V733.5H1425.9V730H1426.5V727.5H1427.2V725.5H1428V724H1428.6V722.5H1429.3V725H1430.1V726.5H1430.8V728.5H1431.3V729.5H1432V734H1432.9V737H1433.6V740H1434.2V742.5H1434.9V745.5H1435.7V748H1436.4V751H1437.1V753.5H1437.7V755.5H1438.4V757.5H1439.2V759.5H1439.9V761H1440.6V763H1441.3V764.5H1442V766.5H1442.5V767.5H1443.2V767.5H1444.1V767.5H1444.8V768H1445.5V768H1446.2V768H1446.9V768H1447.6V768H1448.5V768.5H1449.7V768H1450.9V770H1452.1V768.5H1453.3V770H1454.3V769H1454.9V767.5H1455.7V770.5H1456.9V768H1458.1V771H1459.3V768.5H1460.5V770.5H1461.7V769.5H1462.9V771H1464.1V769H1465.3V769.5H1466.5V771.5H1467.7V771.5H1468.9V770H1470.1V772H1471.3V770.5H1472.5V772.5H1473.7V770H1474.9V772.5H1476.1V770H1477.3V770.5H1478.1V771.5H1478.7V772H1479.7V771.5H1480.9V773H1482.1V770.5H1483.3V772.5H1484.5V771H1485.7V770H1486.9V771H1488.1V772H1489.3V770.5H1490.5V772H1491.7V770.5H1492.9V770H1494.1V772H1495.3V772.5H1496.5V770H1497.7V772H1498.9V771H1500.1V772H1501.3V771H1502.5V772.5H1503.7V770.5H1504.9V772.5H1506.1V771.5H1507.3V773H1508.5V770.5H1509.7V772.5H1510.9V769.5H1512.1V772H1513.3V769.5H1514.5V772.5H1515.7V770.5H1516.9V772.5H1518.1V772H1519.3V770.5H1520.5V773H1521.7V769.5H1522.9V771.5H1524.1V771.5H1525.3V771H1526.5V770.5H1527.7V771H1528.9V771.5H1530.1V770H1531.3V770H1532.5V769.5H1533.7V771.5H1534.9V770.5H1536.1V771.5H1537.3V770.5H1538.5V772H1539.7V770.5H1540.9V772H1542.1V772H1543.3V770.5H1544.5V772H1545.7V772.5H1546.9V772.5H1548.1V772.5H1549.3V770H1550.5V772H1551.7V769.5H1552.9V770.5H1554.1V772.5H1555.3V770.5H1556.5V769H1557.7V771H1558.9V772H1560.1V769.5H1561.3V772H1562.5V770.5H1563.7V772.5H1564.9V771.5H1566.1V770H1567.3V772H1568.5V769.5H1569.7V771.5H1570.9V770H1572.1V772H1573.3V770H1574.5V771.5H1575.7V770H1576.9V771.5H1578.1V769.5H1579.3V772H1580.5V770H1581.7V771H1582.9V769.5H1584.1V770.5H1584.7V771H1585.3V769.5H1586.5V769H1587.7V768.5H1588.7V768H1589.4V767.5H1590.1V767H1590.8V766.5H1591.4V766.5H1592.1V765.5H1592.9V765H1593.6V764H1594.3V763.5H1595V762.5H1595.7V762H1596.2V761.5H1596.9V761H1597.8V760H1598.5V759.5H1599.2V759H1599.9V758.5H1600.6V758H1601.3V757.5H1602V756.5H1602.7V756H1603.3V755.5H1604V754H1604.8V753H1605.5V751.5H1606.2V750.5H1606.9V749H1607.7V747.5H1608.4V746.5H1609V745.5H1609.7V744H1610.4V743H1611.1V741.5H1611.9V739.5H1612.6V740.5H1613.2V741.5H1613.9V742.5H1614.6V743.5H1615.3V745H1616.1V746H1616.8V747.5H1617.4V749H1618.1V751H1618.8V752.5H1619.5V754.5H1620.2V756H1620.9V758H1621.6V759H1622.3V760.5H1623V761.5H1623.7V762.5H1624.4V763.5H1625.1V765H1625.8V766H1626.6V767.5H1627.3V767.5H1627.9V768H1628.6V768H1629.3V768H1630V768.5H1630.7V768.5H1631.4V768.5H1632.1V769H1632.8V768.5H1633.7V769.5H1634.9V770.5H1636.1V770H1636.7V769.5H1637.3V771H1638.5V768.5H1639.7V770.5H1640.9V769H1642.1V771.5H1643.3V769.5H1644.5V770.5H1645.7V771H1646.9V769H1648.1V769H1649.3V772.5H1650.5V769.5H1651.7V770.5H1652.9V772H1654.1V772.5H1655.3V772H1656.5V771H1657.7V773H1658.9V771H1659.8V771.5H1660.4V771.5H1661.3V771H1662.5V772.5H1663.7V770.5H1664.9V772.5H1666.1V771.5H1667.3V771H1668.5V772.5H1669.7V772.5H1670.9V770.5H1672.1V772H1673.3V769.5H1674.5V772.5H1675.7V772H1676.9V769.5H1678.1V771H1679.3V772H1680.5V771H1681.7V772.5H1682.9V771H1684.1V772.5H1685.3V770H1686.5V771.5H1687.7V770.5H1688.9V771.5H1690.1V770.5H1691.3V772H1692.5V770.5H1693.7V770H1694.9V772H1696.1V770.5H1697.3V770.5H1698.5V769.5H1699.7V770.5H1700.9V772.5H1702.1V770.5H1703.3V771.5H1704.5V770.5H1705.7V770.5H1706.9V772H1708.1V770H1709.3V772.5H1710.5V770H1711.7V772H1712.9V770H1714.1V771.5H1715.3V770H1716.5V772H1717.7V771.5H1718.9V770.5H1720.1V771.5H1721.3V772H1722.5V769H1723.7V771.5H1724.9V769H1726.1V771.5H1727.3V769H1728.5V771.5H1729.7V770H1730.9V769H1732.1V769H1733.3V772H1734.5V769H1735.7V770H1736.9V770H1738.1V772H1739.3V770H1740.5V771H1741.7V770H1742.9V770.5H1743.8V770.5H1744.5V769.5H1745.3V769H1746V768.5H1746.7V768H1747.4V767.5H1748.1V766.5H1748.8V766H1749.5V765.5H1750.2V765H1750.8V764.5H1751.5V763.5H1752.3V763H1753V762.5H1753.7V762H1754.4V761.5H1755.1V761.5H1755.8V761H1756.5V760.5H1757.2V760H1757.9V759.5H1758.6V758.5H1759.3V759H1760V759.5H1760.7V760H1761.4V760.5H1762.1V761H1762.8V761.5H1763.5V761.5H1764.2V762H1764.9V762.5H1765.6V763H1766.3V763.5H1767V764H1767.7V764.5H1768.4V764.5H1769.1V765H1769.8V765.5H1770.5V766H1771.2V766.5H1771.9V767H1772.6V767H1773.3V767.5H1773.9V768H1774.6V768H1775.4V767.5H1776.1V767.5H1776.8V767.5H1777.5V767.5H1778.2V767.5H1778.9V767.5H1779.6V767.5H1780.3V767H1781V767H1781.7V767H1782.5V767H1783.2V766.5H1783.8V765.5H1784.5V765H1785.2V764H1785.9V763.5H1786.6V762.5H1787.3V761.5H1788V761H1788.7V760H1789.4V759.5H1790.1V759H1790.8V758.5H1791.5V757.5H1792.2V757H1792.9V756.5H1793.6V756H1794.3V755.5H1795V754.5H1795.7V755.5H1796.4V756H1797.1V757H1797.8V757.5H1798.5V758.5H1799.2V759H1799.9V760H1800.6V761H1801.3V761.5H1802.1V762.5H1802.8V763H1803.4V764H1804.1V764.5H1804.8V765H1805.5V766H1806.2V766.5H1806.9V767.5H1807.6V768H1808.3V768.5H1809V769.5H1809.7V770H1810.4V771H1811V771.5H1811.7V771.5H1812.5V771.5H1813.4V772H1814.6V770.5H1815.8V771H1817V772.5H1818.2V770H1819.4V772H1820.6V771.5H1821.8V770H1823V773H1824.2V770H1825.4V772.5H1826.6V771H1827.8V772H1829V771H1830.2V773H1831.4V770.5H1832.6V772H1833.8V770.5H1835V773.5H1836.2V770H1837.4V771H1838.6V770.5H1839.8V770.5H1841V772.5H1842.2V771H1843.4V773.5H1844.6V771H1845.8V772.5H1847V771H1848.2V772.5H1849.4V771.5H1850.6V773H1851.8V773H1853V771H1854.2V773H1855.4V772.5H1856.6V770.5H1857.8V773H1859V770.5H1860.2V771.5H1861.4V773.5H1862.4V772H1863V771.5H1863.8V772H1865V770.5H1866.2V772.5H1867.4V770.5H1868.6V772H1869.8V770H1871V771H1872.2V769H1873.4V770H1874.6V770.5H1875.8V769H1877V770.5H1878.2V768H1879.4V770.5H1880.6V768H1881.8V770H1883V768.5H1884.2V768.5H1885.4V767.5H1886.6V768.5H1887.8V769H1889V767H1890.2V768H1891.4V767.5H1892.6V767H1893.6V767H1894.3V767H1895V766H1895.7V765.5H1896.4V764.5H1897.1V763.5H1897.8V762.5H1898.5V762H1899.2V761H1899.9V760H1900.6V759H1901.4V758H1902.1V757.5H1902.7V756.5H1903.4V756H1904.1V755H1904.8V754H1905.5V753H1906.2V752.5H1906.8V751.5H1907.5V751.5H1908.3V751.5H1909V751.5H1909.7V751.5H1910.4V752H1911.1V752H1911.8V752H1912.5V752H1913.2V752H1913.9V752H1914.6V753H1915.3V754.5H1916V755.5H1916.7V756.5H1917.4V758H1918.1V759H1918.8V760H1919.3V761H1920V761.5H1920.9V762H1921.6V763H1922.3V763.5H1923V764H1923.7V764.5H1924.4V765H1925.1V765H1925.8V765H1926.5V764.5H1927.2V764.5H1927.9V764H1928.6V764H1929.3V763.5H1930V763.5H1930.7V763H1931.4V763H1932.1V762.5H1932.6V762.5H1933.3V763H1934.2V763.5H1934.9V764H1935.6V764.5H1936.3V765H1937V765.5H1937.7V766H1938.4V766.5H1939.1V767H1939.8V767H1940.5V767.5H1941.2V768H1941.9V768.5H1942.4V769H1943.1V769H1944V769H1944.7V769.5H1945.4V770H1946.3V769.5H1947.5V771H1948.7V769.5H1949.9V771.5H1951.1V770.5H1952.3V772H1953.5V771H1954.6V772H1955.2V773.5H1955.9V771H1957.1V771H1958.3V773.5H1959.5V773.5H1960.7V770.5H1961.9V772.5H1963.1V770.5H1964.3V773H1965.5V770.5H1966.7V773H1967.9V770H1969.1V773H1970.3V771H1971.5V772.5H1972.7V771.5H1973.9V773.5H1975.1V770H1976.3V773H1977.5V773H1978.7V770.5H1979.9V773H1981.1V770.5H1982.3V773H1983.5V770.5H1984.7V771H1985.9V772.5H1987.1V770H1988.3V772.5H1989.5V770.5H1990.7V772.5H1991.9V772.5H1993.1V770H1994.3V772H1995.5V770.5H1996.7V773H1997.9V770H1999.1V773H2000.3V771H2001.5V772.5H2002.7V772H2003.9V770.5H2005.1V771.5H2006.3V770H2007.5V772H2008.7V773H2009.9V771H2011.1V771.5H2012.3V770H2013.5V772H2014.7V771H2015.9V769.5H2017.1V772.5H2018.3V770.5H2019.5V770.5H2020.7V772H2021.9V769.5H2023.1V772H2024.3V771.5H2025.5V770H2026.7V772.5H2027.9V770H2029.1V772.5H2030.3V772H2031.5V770.5H2032.7V771.5H2033.9V772.5H2035.1V770H2036.3V772H2037.5V769.5H2038.7V772.5H2039.9V770H2041.1V771H2042.3V769H2043.5V772.5H2044.7V770.5H2045.9V772H2047.1V770H2048.3V772H2049.5V770H2050.7V772H2051.9V770H2053.1V771.5H2054.3V770.5H2055.5V772H2056.7V770.5H2057.9V770H2059.1V771.5H2060.3V772H2061.5V769.5H2062.7V771.5H2063.9V770H2065.1V771.5H2066.3V769.5H2067.5V771.5H2068.7V770.5H2069.9V770.5H2071.3V770.5H2072.2V770H2072.8V770H2073.5V769.5H2074.2V769H2074.9V768.5H2075.6V768H2076.3V767.5H2077V767H2077.7V766.5H2078.4V766H2079.1V765.5H2079.8V765H2080.5V764.5H2081.2V764H2081.9V763.5H2082.4V763.5H2083.1V763H2084V763H2084.7V763H2085.4V762.5H2086.1V762.5H2086.8V762.5H2087.5V762H2088.2V762H2088.9V762H2089.6V761.5H2090.3V761.5H2091V761.5H2091.7V761H2092.4V761H2093V761H2093.7V761H2094.5V761H2095.2V761H2095.9V761H2096.6V761H2097.3V761H2098V761H2098.7V761.5H2099.4V761.5H2100.1V761.5H2100.8V761.5H2101.5V761.5H2102.2V761.5H2102.9V762H2103.6V762.5H2104.3V763H2105V763.5H2105.7V764H2106.4V764.5H2107.1V764.5H2107.8V765H2108.5V765.5H2109.2V766H2109.9V766.5H2110.6V767H2111.3V767.5H2112V768H2112.7V768.5H2113.4V769H2114.2V769.5H2114.9V769.5H2115.5V769.5H2116.2V769.5H2116.9V769.5H2117.6V770H2118.3V770H2119V770H2119.7V770H2120.4V770H2121.3V770.5H2122.5V771.5H2123.7V770H2124.9V771.5H2126.1V770H2127.3V769.5H2128.5V770H2129.7V772H2130.9V772.5H2131.8V771.5H2132.4V771H2133.3V770.5H2134.5V771.5H2135.7V771.5H2136.9V772.5H2138.1V771.5H2139.3V773.5H2140.5V770.5H2141.7V773H2142.9V771H2144.1V770.5H2145.3V772.5H2146.5V771H2147.7V773H2148.9V771H2150.1V772H2151.3V770.5H2152.5V773.5H2153.7V771.5H2154.9V772.5H2156.1V773H2157.3V771.5H2158.5V773H2159.7V771.5H2160.9V772H2162.1V770H2163.3V772.5H2164.5V772H2165.7V770.5H2166.9V771.5H2168.1V772.5H2169.3V772.5H2170.5V771.5H2171.7V773.5H2172.9V771H2174.1V770.5H2175.3V772H2176.5V771H2177.7V770.5H2178.9V770.5H2180.1V772.5H2181.3V771H2182.5V772.5H2183.7V771H2184.9V772H2186.1V772.5H2187.3V771.5H2188.5V773.5H2189.7V771H2190.9V773H2192.1V771.5H2193.3V773H2194.5V770.5H2195.7V772.5H2196.9V770.5H2198.1V773H2199.3V770.5H2200.5V773H2201.7V771.5H2202.9V772H2204.1V772.5H2205.3V771.5H2206.5V770.5H2207.7V771.5H2208.9V772.5H2210.1V771.5H2211.3V773H2212.5V771.5H2213.7V772.5H2214.9V771H2216.1V772.5H2217.3V771.5H2218.5V772.5H2219.7V771.5H2220.9V771H2222.1V773H2223.3V772H2224.5V770.5H2225.7V773H2226.9V772H2228.1V771H2229.3V773H2230.5V770.5H2231.7V772.5H2232.9V773H2234.1V770H2235.3V773.5H2236.5V771H2237.7V770.5H2238.9V773.5H2240.1V773.5H2241.3V770H2242.5V772.5H2243.7V771.5H2244.9V772H2246.1V771.5H2247.3V773H2248.5V771H2249.7V770H2250.9V772.5H2252.1V771.5H2253.3V771.5H2254.5V772.5H2255.7V771.5H2256.9V772.5H2258.1V770H2259.3V772H2260.5V771.5H2261.7V773H2262.9V773.5H2264.1V771.5H2265.3V772.5H2266.5V771H2267.7V772.5H2268.9V770.5H2270.1V773H2271.3V771.5H2272.5V772.5H2273.7V771H2274.9V773.5H2276.1V771.5H2277.3V773H2278.5V773H2279.7V770.5H2280.9V772.5H2282.1V771.5H2283.3V772H2284.5V771.5H2285.7V772.5H2286.9V770.5H2288.1V772.5H2289.3V770.5H2290.5V771H2291.7V773.5H2292.9V770.5H2294.1V773.5H2295.3V771H2296.5V773H2297.7V771H2298.9V773H2300.1V771.5H2301.3V773H2302.5V773.5H2303.7V771H2304.9V773.5H2306.1V770.5H2307.3V773H2308.5V771.5H2309.7V771.5H2310.9V772.5H2312.1V771.5H2313.3V773H2314.5V770.5H2315.7V772.5H2316.9V770.5H2318.1V772H2319.3V773H2320.5V771.5H2321.7V770.5H2322.5V772H2323.1V773H2324.1V771H2325.3V772H2326.5V772.5H2327.7V770.5H2328.9V772H2330.1V770.5H2331.3V770H2332.5V771.5H2333.7V770.5H2334.9V772.5H2336.1V770H2337.3V772.5H2338.5V772H2339.7V769.5H2340.9V769.5H2342.1V771.5H2343.3V769.5H2344.5V769H2345.7V771.5H2346.9V770H2348.1V771.5H2349.3V769.5H2350.5V771.5H2351.7V769.5H2352.9V770.5H2354.1V770.5H2355.3V769H2356.5V770H2357.7V770H2358.9V769.5H2359.9V769.5H2360.6V769.5H2361.3V769.5H2362V769H2362.7V769H2363.4V769H2364.1V769H2364.8V769H2365.5V769H2366.2V768.5H2366.9V768.5H2367.6V768.5H2368.3V768.5H2369V768.5H2369.7V768.5H2370.4V768H2371.1V768H2371.8V768H2372.5V768H2373.2V768H2373.9V768H2374.5V767.5H2375.2V767.5H2376V767.5H2376.7V767.5H2377.4V767.5H2378.1V767.5H2378.8V767.5H2379.5V767.5H2380.2V767.5H2380.9V767.5H2381.6V767H2382.3V767H2383V767H2383.7V767H2384.4V767H2385.1V767H2385.8V767H2386.5V767H2387.2V767H2387.9V767H2388.6V766.5H2389.3V766.5H2390V766.5H2390.7V766.5H2391.4V766.5H2391.9V766.5H2392.6V766.5H2393.5V767H2394.2V767H2394.9V767H2395.6V767.5H2396.3V767.5H2397V767.5H2397.7V768H2398.4V768H2399.1V768H2399.8V768.5H2400.4V768.5H2401.1V769H2401.8V769H2402.5V769.5H2403.2V769.5H2403.9V770H2404.6V770H2405.3V770.5H2406V770.5H2406.7V771H2407.4V771H2408.1V771.5H2408.9V771.5H2409.6V771.5H2410.2V771.5H2411.2V772H2412.4V771H2413.6V770.5H2414.8V773H2416V771H2417.2V773H2418.4V771H2419.6V770.5H2420.8V773H2422V770.5H2423.2V772.5H2424.4V770.5H2425.6V771H2426.8V772H2428V770.5H2429.2V771.5H2430.4V773H2431.6V770.5H2432.8V773H2434V771.5H2435.2V772.5H2436.4V771.5H2437.6V773.5H2438.8V771.5H2440V772H2441.2V771H2442.4V773H2443.6V771.5H2444.8V773H2446V770.5H2447.2V773.5H2448.4V773H2449.6V770.5H2450.8V773H2452V771.5H2452.6V772H2453.2V772H2454.4V772.5H2455.6V773H2456.8V770H2458V772.5H2459.2V770.5H2460.4V771.5H2461.2V770.5H2461.8V769.5H2462.8V771.5H2464V769H2465.2V771H2466.4V770.5H2467.6V770H2468.8V771.5H2470V770H2471.2V771.5H2472.4V772.5H2473.6V770H2474.8V772.5H2476V770.5H2477.2V772H2478.4V770H2479.6V771.5H2480.8V770.5H2481.8V771H2482.4V771.5H2483.2V770.5H2484.4V772.5H2485.6V769.5H2486.8V770.5H2488V773H2489.2V772H2490.4V770H2491.6V771H2492.8V772H2494V770.5H2495.2V771H2496.4V772.5H2497.6V771H2498.8V773.5H2500V771.5H2501.2V773H2502.4V771H2503.6V773H2504.8V772H2505.9V772.5H2506.5"/><path fill="none" stroke="#111" stroke-width="2.4" stroke-linejoin="round" d="M129.5,1060.5H130.1V1047.5H131.8V1054.5H133.9V1045H135.4V1024H136.8V1020.5H138.3V1042.5H139.8V1060.5H141.3V1037H142.7V1035H144.2V1035.5H146V1032H148.6V1055.5H151V1050H153.1V1015.5H154.9V1016H156.1V1018H157.2V1042.5H159V1060.5H160.8V1056.5H162.6V1048.5H164.6V1031H166.1V1022.5H167.6V1032H169V1039.5H170.2V1050H172V1054.5H174.3V1052H176.1V1053.5H178.5V1041.5H180.9V1043H182.9V1044H185.3V1034.5H186.8V1036H188.5V1039H190.2V1039H192.2V1036H194V1035.5H195V1027.5H196.2V1015.5H197.7V1026H199.8V1040.5H202.4V1033.5H204.7V1021.5H206.2V1012H207.8V1003.5H209.8V1008.5H212.2V1014.5H214.1V1018H216.3V1031H218.8V1023.5H220.6V1012H222.8V1006H224.8V1009H226.6V1015.5H228.6V1006.5H230.9V994.5H232.9V998H234.1V1000H236.1V1024H238.8V992H240.8V982.5H242.9V1002.5H244.8V994.5H246.6V981.5H248.6V986H250.3V990.5H252.3V995.5H254.7V996.5H257.1V979H258.9V980.5H260.6V983.5H262.6V985.5H264.4V988.5H266.9V1007.5H268.9V997.5H270.4V982.5H272.5V1005H274.6V1004.5H276.6V1005H278.6V995H280.4V985H282.4V995H284.5V1005H286.5V1010.5H288.5V1012H290.4V1015.5H292.4V1005H294.2V998H296.2V993.5H298.6V988.5H300.6V1004H302.1V1011H304.1V1003.5H306.1V1000H308.1V991H310.2V987H312.6V1006H314.9V1003H316.8V988.5H318.8V991H320.5V996.5H322.4V1001.5H324.4V1003.5H326.5V1006H328.9V1006H330.9V1006H332.5V1006.5H334.5V1011H336.5V1012H338.7V1014.5H340.7V1008.5H342.8V1000H344.8V1005.5H346.2V1009.5H348.2V1005H350.6V1000H352.6V1000H354.4V999H356.4V1009H358.1V1015.5H360.1V1008H362.5V1000H364.5V1002.5H366.9V1002.5H368.9V1000H370.5V995.5H372.8V990.5H374.8V995H376.5V1000.5H378.2V1003.5H380.2V996.5H382.5V992H384.5V988H386V985H387V988.5H388.5V996H390.5V1004H392.2V1009.5H394.2V1007.5H396.6V1006H398.6V1002.5H400.5V996H402.3V994.5H404.3V1005H406.9V1014.5H408.9V1013.5H410.9V1009.5H412.9V1002.5H414.4V993H416.4V1003H418.5V1011H420.6V1009.5H422.6V1006.5H424.5V1002H426V1000H427V1003H428.8V1007.5H430.8V1009.5H432.6V1007.5H434.8V1011H436.8V1008.5H438.5V1006H440.1V1002.5H442.2V1001H444.6V1006.5H446.1V1007.5H448.1V998H450.6V1002H452.9V1010H454.9V1006.5H456.4V1002.5H458.4V1002H460.8V1000H462.8V994.5H464.2V992H466.4V1001.5H468.7V996H470.2V992H471.8V1003.5H474.1V1009H476.4V1011H478.4V1000.5H480.2V992H482.2V996.5H484V998H485V999H486.8V1008.5H488.8V1006.5H490.5V999.5H492.1V995.5H494.5V1008.5H496.9V1006.5H498.9V1000H500.9V1005.5H502.4V1013H504.4V1005.5H506.2V1002.5H508.2V998.5H510.6V998H512.9V1003.5H514.8V1001.5H516.5V1003H518.5V999.5H520.3V999H522.3V997.5H524.5V996.5H526.5V996.5H528.5V995.5H530V994.5H532.4V1010H534.8V1008H536.5V1003.5H538.1V1002.5H540.6V1006H543V999H544.7V992H547.1V1003.5H548.9V1002H550.6V998H552.6V1001H554.5V1005.5H556V1006H558V1005H560.5V1004H562.6V1003.5H564.6V1007H566.5V1009H568.5V1014H570.5V1007.5H572.3V1003.5H574.3V998.5H576.5V996.5H578.2V993.5H580.2V1001H582.5V1004H584.2V1006H586.2V1002.5H588.6V998H590.6V1001H593V1005.5H595V1005H596.7V1003.5H598.7V997H600.5V989.5H602.5V999H604.2V1006H606.2V1006.5H608.5V1009.5H610.2V1012H612.2V1009.5H614.6V1009.5H616.6V1005.5H618.4V1000H620.4V1005.5H622.1V1007.5H624.1V1009.5H626.5V1010.5H628.1V1009.5H630.1V1010.5H632.5V1012.5H634V1012H635.8V1002.5H638.2V1017H640V1020.5H641V1018H642.5V1013.5H644.4V1008.5H646.4V1014.5H648.8V1021.5H650.8V1019.5H652.5V1020H654.7V1019H656.7V1014.5H658.5V1011H660.5V1020.5H662.2V1027.5H664.2V1021H666.5V1017H668.2V1013H670.2V1017H672.5V1024H674.5V1024.5H676.3V1021.5H678.3V1025.5H680.5V1026.5H682.2V1028.5H684.2V1029.5H686.6V1032H689V1037H690.8V1032.5H692.6V1026H694.6V1027.5H696.6V1027.5H698.6V1020.5H700V1016H702.5V1011.5H704.9V1003.5H706V996.5H707V986.5H708.1V974.5H709.5V949.5H711V911H712.5V886H714.3V886H716V896.5H717.7V914H719.2V946.5H720.9V980.5H723.1V998H725.3V1011.5H727V1019H728V1026H729.7V1033.5H732.1V1030H734.8V1026H736.8V1028H738.5V1032.5H740.7V1038H742.7V1038.5H744.5V1037.5H746.5V1036H748.4V1036.5H750.4V1035H752.5V1034H754.5V1033.5H756.8V1033.5H759.2V1045.5H760.9V1039.5H762V1033.5H763V1034.5H764.5V1037H767V1039.5H769V1037H770.4V1032.5H772.4V1035H774.5V1038H776.4V1041H778.4V1040.5H780.5V1037H782.3V1036.5H784.3V1038.5H786.5V1042H788.2V1043H790.2V1043H792.5V1042.5H794.5V1041H796.9V1038.5H798.9V1040.5H800.5V1039.5H802.5V1042.5H804.1V1043H806.1V1040H808.2V1039H810.2V1037H812.5V1036.5H814.1V1036.5H816.1V1042.5H818.2V1044.5H820.2V1045.5H822.9V1047.5H824.9V1046H826V1046.5H828V1042.5H830.5V1041H832.5V1041H834.5V1040H836.4V1038.5H838.4V1036H840.8V1035H842.8V1038H844.5V1039H846.5V1040.5H848.3V1043H850.3V1039H853V1033.5H855V1036H856.5V1039H858.6V1041.5H860.6V1040.5H862.5V1037.5H864.6V1035.5H866.6V1033.5H868.5V1031.5H870.5V1031H872.5V1035.5H874.5V1040H876.5V1045H878.5V1044H880.5V1042H882.5V1042H884.5V1039H886.8V1035.5H888.8V1038.5H890.6V1045H892.6V1042H895V1038.5H897V1039.5H898.5V1043H900V1045H901V1041.5H902.8V1035H904.8V1037.5H906.9V1041H908.9V1039H910.6V1036H912.6V1040H914.7V1046.5H916.7V1045.5H918.8V1042.5H920.8V1044H922.5V1046H924.4V1046.5H926.4V1045H928.5V1044H930.5V1042H932.9V1041H934.9V1042H936.5V1044.5H938.5V1046H940.4V1048H942.4V1044.5H944.8V1041H946.8V1042H948.5V1042.5H950.5V1043.5H952.9V1045H954.9V1043H956.5V1040.5H958.2V1038.5H960.2V1040.5H962.5V1042.5H964.5V1045H966.4V1046.5H968.4V1045.5H970.5V1042.5H972V1041H974.4V1049H976.9V1045.5H978.9V1038.5H980.9V1040H982.7V1043H984.7V1043H986.5V1042.5H988.5V1041.5H990.8V1039.5H992.8V1038.5H994.5V1037H996.5V1035H998.4V1033.5H1000.4V1032H1002.5V1030.5H1004.3V1030H1006.3V1032.5H1008.7V1035.5H1011V1024.5H1012.9V1019H1014.6V1013H1016.6V1016.5H1018.4V1022H1020.4V1024H1022.5V1025.5H1024.5V1029H1026.5V1033.5H1028.5V1034.5H1030.3V1035H1032.3V1035H1034.5V1036H1036V1036.5H1037V1038H1038.5V1039H1040.5V1041.5H1042.8V1044.5H1044.8V1046.5H1046.5V1046H1048.5V1047H1050.5V1048H1052.5V1049.5H1054.5V1046.5H1056.3V1044H1058.3V1043H1060.7V1042H1062.7V1044H1064.5V1045.5H1066.5V1046H1068.8V1048.5H1070.8V1048.5H1072.5V1048H1074.2V1049H1076.2V1045.5H1078.8V1043H1080.8V1045H1082.5V1048.5H1084.5V1050H1086.5V1051H1088.2V1051.5H1090.2V1049.5H1092.5V1047.5H1094.5V1045H1096.5V1046.5H1098.5V1049.5H1100.4V1049.5H1102.4V1047H1104.8V1045H1106.8V1046.5H1108.5V1049H1110.5V1052.5H1112.6V1054.5H1114.6V1051.5H1116.7V1048H1118.7V1047H1120.5V1047H1122.9V1046H1124.9V1047.5H1126.5V1048H1128.5V1049H1130.5V1051H1132.5V1052.5H1134.2V1052.5H1136.2V1051H1138.5V1048.5H1140.5V1047.5H1142V1046H1144.4V1052H1146.8V1050H1148.6V1045.5H1150.6V1047H1152.7V1051H1154.7V1051H1156.5V1049.5H1158.5V1048.5H1160.5V1048H1162.5V1052H1164.3V1052.5H1166.3V1050H1168.3V1048H1170.3V1049H1172.5V1051H1174.5V1053H1176.5V1054.5H1178.4V1055H1180.4V1053H1182.5V1051H1184.5V1049.5H1186.5V1048H1188.5V1049.5H1190.3V1052H1192.3V1051H1194.5V1051H1196.8V1050.5H1198.8V1050H1200.5V1051H1202.5V1050.5H1204.5V1051H1206.5V1051.5H1208.8V1052H1210.8V1051H1212.5V1051H1214.2V1049.5H1216.2V1052H1218.5V1055H1220.4V1057H1222.8V1049.5H1224.8V1050H1226.5V1050H1228.5V1052H1230.5V1052.5H1232.6V1053.5H1234.6V1051H1236.5V1051H1238.5V1050H1240.7V1048H1242.7V1047.5H1244.5V1048.5H1246.7V1047.5H1248.7V1044H1250.5V1040.5H1252.5V1032.5H1254.2V1027.5H1256.1V1015.5H1258.8V1003.5H1261.2V992H1262.9V994H1264.7V1006H1266.8V1021.5H1269.1V1032H1270.9V1037H1272.1V1041.5H1274.5V1046H1276.8V1047.5H1278.7V1052H1280.7V1050.5H1282.4V1048H1284.4V1049.5H1286.5V1050.5H1288.5V1051.5H1290.5V1054.5H1292.5V1053H1294.9V1051H1296.9V1052.5H1298.1V1055H1300.1V1053.5H1302.5V1052H1304.5V1050H1306.5V1049H1308.4V1048H1310.4V1051H1312.5V1052.5H1314.3V1052.5H1316.3V1054H1318.5V1054.5H1320.5V1055H1322.5V1056H1324.5V1058.5H1326.2V1058H1328.2V1052H1330.5V1052.5H1332.5V1052H1334.5V1051.5H1336.5V1052H1338.2V1052H1340.2V1055H1342.5V1058.5H1344.5V1056.5H1346.9V1053.5H1348.9V1054.5H1350.5V1056H1352.2V1056H1354.2V1055.5H1356.5V1055H1358.5V1055H1360.5V1055.5H1362.6V1054H1364.6V1054H1366.5V1052.5H1368.8V1052.5H1370.8V1053H1372.5V1051.5H1374.5V1054.5H1376.3V1056.5H1378.3V1056.5H1380V1053H1382V1052.5H1384.5V1052.5H1386.6V1052H1388.6V1049H1390.4V1046H1392.4V1045.5H1394.2V1045H1396.2V1038.5H1398.2V1035.5H1400.2V1028H1402V1026.5H1403V1026H1404.8V1028.5H1406.9V1035.5H1408.7V1037H1410.5V1039H1412V1040H1414V1043H1416.5V1047H1418.5V1048H1420.5V1045.5H1422.3V1042.5H1424.3V1036H1426.1V1032H1428.2V1024H1430.6V1025H1432.3V1026H1434.4V1036.5H1436.5V1040.5H1438.6V1045H1440.9V1051H1442.8V1051.5H1444.5V1053H1446.8V1055H1448.8V1056H1450.5V1056H1452.1V1056H1454.5V1052.5H1456.9V1053.5H1458.5V1054.5H1460.5V1054.5H1462.5V1055.5H1464V1056.5H1465.8V1059H1468.2V1056.5H1470V1055H1471V1056H1472.8V1058.5H1474.8V1057H1476.5V1056.5H1478.7V1054.5H1480.7V1055H1482.5V1056H1484.5V1058H1486.2V1058.5H1488.2V1057H1490.5V1057H1492.8V1055H1494.8V1056H1496.5V1057H1498.5V1058.5H1500.3V1058.5H1502.3V1056H1504.5V1056.5H1506.9V1055H1508.9V1054H1510.5V1054H1512.5V1054H1514.5V1054H1516V1053H1518V1054.5H1520.5V1056.5H1522.5V1056H1524.8V1057.5H1526.8V1056.5H1528.5V1055H1530.5V1054.5H1532.5V1052.5H1534.5V1051.5H1536.5V1051.5H1538.5V1052.5H1540.5V1053H1542.5V1055.5H1544.8V1060.5H1546.8V1059H1548.6V1055H1550.6V1055.5H1552.5V1055.5H1554.5V1056H1556.5V1055.5H1558.3V1056H1560.3V1055.5H1562.5V1055.5H1564.5V1054H1566.5V1053.5H1568V1054H1570.3V1057.5H1572.8V1056H1574.6V1052H1576.6V1053.5H1578.5V1053.5H1580.5V1054H1582.8V1054.5H1584.8V1053H1586.5V1051.5H1588.1V1049.5H1590.1V1051H1592.5V1052.5H1594.5V1051.5H1596.5V1050.5H1598.5V1049.5H1600.6V1047.5H1602.6V1045.5H1604.5V1044H1606.5V1042H1608.5V1039.5H1610.5V1037.5H1612.5V1035.5H1614.5V1036.5H1616.8V1039H1618.8V1040.5H1620.5V1043.5H1622.8V1046H1624.8V1047H1626.5V1049H1628.5V1051H1630.3V1052.5H1632.3V1053.5H1634.5V1054H1636.5V1053H1638.5V1054.5H1640.1V1054.5H1642.5V1058H1644.8V1056.5H1646.5V1056H1648.2V1054.5H1650.2V1054.5H1652.5V1055H1654.5V1056H1657V1057.5H1659.2V1056.5H1660.8V1056.5H1662.5V1055.5H1664.5V1056H1666.5V1056H1668.5V1055.5H1670.8V1055.5H1672.8V1056H1674.5V1057H1676.5V1057H1678.5V1058H1680.5V1058.5H1682V1059H1683V1056.5H1684.8V1054H1686.8V1055.5H1688.5V1057H1690.5V1056.5H1692.5V1056.5H1694.5V1056.5H1696.5V1057H1698.5V1057H1700.5V1057H1702.5V1056H1704.3V1054.5H1706.3V1055H1708.5V1056H1710.8V1056.5H1712.8V1056H1714.5V1054.5H1716.5V1056H1718.7V1058H1720.7V1058H1722.5V1058.5H1724.5V1058H1726.5V1058H1728.5V1057.5H1730.5V1058H1732.5V1059H1734.9V1057.5H1736.9V1057H1738.5V1055.5H1740.5V1056.5H1742.5V1054.5H1744.5V1053.5H1746.1V1054H1748.1V1051H1750.5V1051.5H1752.5V1050.5H1754.5V1050H1756.5V1049H1758.2V1047.5H1760.2V1048.5H1762.5V1050H1764.5V1049.5H1766.5V1050.5H1768.5V1051H1770.5V1053H1773V1054.5H1775V1055H1776.5V1054.5H1778.5V1055H1780.5V1053.5H1782.5V1055.5H1784.2V1054.5H1786.2V1053H1788.5V1052.5H1790.7V1051H1792.7V1048.5H1794.8V1045H1796.8V1047H1799V1050.5H1801V1050H1802.5V1049H1804.5V1049.5H1806.5V1053H1808.3V1055.5H1810.3V1056H1812.5V1055.5H1814.8V1056.5H1816.8V1056H1819V1059H1821V1058H1822.5V1057H1824.5V1056.5H1826.8V1054.5H1828.8V1055H1830.5V1056.5H1832.5V1056H1834.5V1056H1836.5V1056.5H1838.5V1055H1840.8V1057.5H1842.8V1056.5H1844.5V1056.5H1846.5V1056.5H1848.5V1056.5H1850.1V1056.5H1852.1V1057H1854.5V1057.5H1856.5V1056.5H1858.5V1057.5H1860.5V1057.5H1862.5V1057.5H1864.5V1058H1866.8V1058H1868.8V1058H1870.5V1058H1872.5V1058H1874.5V1058.5H1876.5V1057.5H1878.5V1058H1880.5V1059H1882.5V1058H1884.5V1057.5H1886.5V1056.5H1888.5V1056H1890.9V1054H1892.9V1052.5H1894.5V1052.5H1896.5V1051H1898.5V1050H1900.5V1049H1902.1V1047.5H1904.1V1047.5H1906.5V1047H1908.5V1045.5H1910.9V1045H1912.9V1046.5H1914.5V1048H1916V1049.5H1918V1051.5H1920.5V1051.5H1922.5V1051.5H1924.4V1053H1926.4V1052H1928.5V1050H1930V1050.5H1931V1051.5H1932.5V1051.5H1934.5V1051H1936.5V1053H1938.5V1054.5H1940.2V1054.5H1942.2V1055.5H1944.5V1055.5H1946.5V1056.5H1948.5V1057H1950.4V1057.5H1952.4V1058H1954.5V1057.5H1956.5V1057.5H1958.5V1056.5H1960.5V1057H1962.5V1057H1964.5V1056.5H1966.5V1057H1968.5V1056H1970.8V1056.5H1972.8V1057H1974.5V1056.5H1976.5V1057H1978.5V1056.5H1980.5V1056.5H1982.5V1057H1984.5V1057.5H1986.5V1057H1988.5V1057.5H1990.5V1058H1992.5V1057.5H1994.5V1058.5H1996.8V1059H1998.8V1059H2000.5V1057.5H2002.5V1058.5H2004.5V1057H2006.5V1057.5H2008.5V1056H2010.5V1055.5H2012.5V1056.5H2014.5V1055H2016.5V1054.5H2018.5V1055H2020.5V1054H2022.5V1054.5H2024.5V1055.5H2026.5V1054H2028.5V1055H2030.5V1056.5H2032.1V1057.5H2034.1V1057.5H2036.5V1057H2038.5V1057H2040.5V1057.5H2042.5V1056.5H2044.5V1056.5H2046.5V1056.5H2048.5V1055.5H2050.5V1056H2052.5V1056H2054.5V1056H2056.5V1056H2058.1V1055.5H2060.1V1056.5H2062.5V1054.5H2064.5V1055.5H2066.5V1055.5H2068.5V1055.5H2070.5V1056.5H2072.5V1056H2074.8V1056.5H2076.8V1055.5H2078.5V1053.5H2080.5V1053H2082.5V1052H2084.5V1051H2086.2V1050.5H2088.2V1050H2090.5V1050H2092.5V1050H2094.5V1049.5H2096.5V1051H2098.5V1049.5H2100.5V1050H2102V1050H2103V1050.5H2104.5V1051H2106.5V1050.5H2108.5V1051H2110.5V1052.5H2112.5V1053H2114.1V1053H2116.1V1053.5H2118.5V1054.5H2120.6V1057.5H2122.6V1057H2124.5V1057.5H2126.5V1057.5H2128.5V1058H2130.5V1057.5H2132.5V1059.5H2134.5V1059H2136.5V1059H2138.5V1058.5H2140.5V1057.5H2142.5V1059H2144.7V1059H2146.7V1057.5H2148.4V1057H2150.4V1057H2152.5V1056.5H2154.5V1057H2156.5V1056H2158.5V1056H2160.5V1056H2162.5V1055.5H2164.5V1055.5H2166.5V1056H2168.5V1057H2170.7V1055.5H2172.7V1056H2174.5V1057.5H2176.5V1057H2178.2V1058H2180.2V1057.5H2182.5V1058H2184.5V1058H2186.5V1057H2188.5V1057.5H2190.5V1057H2192.5V1057.5H2194.5V1057.5H2196.5V1057H2198.6V1056.5H2200.6V1056.5H2202.5V1057H2204.5V1056.5H2206.5V1056.5H2208.5V1056.5H2210.5V1057H2212.5V1057H2214.5V1058H2216.5V1058H2218.5V1057.5H2220.5V1058.5H2222.5V1059H2224.5V1059.5H2226.5V1059H2228.5V1059.5H2230.2V1059.5H2232.2V1058.5H2234.5V1058.5H2236.5V1056.5H2238.5V1057H2240.5V1055H2242.5V1056.5H2244.9V1054.5H2246.9V1055.5H2248.5V1054.5H2250.5V1056.5H2252.4V1057.5H2254.4V1056.5H2256.5V1056H2258.5V1056.5H2260.5V1056H2262.5V1057H2264.5V1056H2266.5V1055.5H2268.5V1055.5H2270.9V1055.5H2272.9V1056H2274.5V1056.5H2276.5V1056.5H2278.5V1056H2280.5V1056.5H2282.5V1057.5H2284.5V1057.5H2286.5V1058.5H2288.5V1058.5H2290.5V1059H2292.5V1059H2294.2V1059.5H2296.2V1059.5H2298.5V1058H2300.5V1060H2302.5V1058.5H2304.5V1058H2306.5V1057.5H2308.5V1058.5H2310.5V1057.5H2312.5V1058H2314.5V1058.5H2316.5V1058H2318.5V1057.5H2320.5V1058H2322.1V1057.5H2324.1V1057H2326.5V1057H2328.5V1057H2330.5V1056.5H2332.5V1057H2334.5V1056H2336.5V1055.5H2338.5V1057H2340.5V1055.5H2342.5V1056H2344.5V1056H2346.5V1055.5H2348.5V1055H2350.8V1055.5H2352.8V1055H2354.5V1054.5H2356.5V1055H2358.5V1054.5H2360.5V1054.5H2362.5V1054.5H2364.5V1053H2366.5V1053H2368.5V1054H2370.5V1054H2372.5V1053H2374.1V1053H2376.1V1052.5H2378.5V1053.5H2380.5V1053H2382.5V1053H2384.5V1051.5H2386.5V1052.5H2388.5V1052H2390.5V1051.5H2392.5V1052.5H2394.5V1052.5H2396.5V1052H2398.5V1052H2400.1V1052H2402.1V1054.5H2404.5V1055H2406.5V1055.5H2408.4V1056.5H2410.4V1057.5H2412.5V1058H2414.5V1058.5H2416.8V1060H2418.8V1059.5H2420.5V1059H2422.5V1058.5H2424.5V1057H2426.1V1057.5H2428.1V1056.5H2430.5V1056.5H2432.5V1056H2434.5V1057.5H2436.5V1057H2438.5V1057.5H2440.5V1055H2442.5V1056H2444.5V1057.5H2446.5V1055.5H2448.5V1055H2450.5V1056H2452.5V1057H2454.5V1056H2456.5V1055H2458.5V1056H2460.4V1055.5H2462.4V1056.5H2464.5V1057.5H2466.5V1058H2468.8V1059H2470.8V1059.5H2472.5V1059.5H2474.5V1060H2476.5V1059.5H2478.5V1059H2480.5V1058H2482.5V1059.5H2484.5V1058H2486.5V1060.5H2488.5V1058.5H2490.5V1058H2492.5V1058H2494.5V1059H2496.5V1059H2498.5V1059.5H2500.5V1059H2502.5V1058.5H2504.5V1059.5H2506V1059H2506.5"/><line x1="123.2" y1="6.4" x2="2508.8" y2="6.4" stroke="#000" stroke-width="2.4"/><line x1="123.2" y1="1064.9" x2="2508.8" y2="1064.9" stroke="#111" stroke-width="2"/><line x1="124.2" y1="5.2" x2="124.2" y2="1065.9" stroke="#202020" stroke-width="2"/><line x1="2507.8" y1="5.2" x2="2507.8" y2="1065.9" stroke="#000" stroke-width="2"/><line x1="149.1" y1="1065.5" x2="149.1" y2="1075.6" stroke="#8a8a8a" stroke-width="1.5"/><line x1="341.7" y1="1065.5" x2="341.7" y2="1086.7" stroke="#222" stroke-width="1.9"/><line x1="582.0" y1="1065.5" x2="582.0" y2="1086.7" stroke="#222" stroke-width="1.9"/><line x1="825.0" y1="1065.5" x2="825.0" y2="1086.5" stroke="#b5b5b5" stroke-width="1.6"/><line x1="1065.1" y1="1065.5" x2="1065.1" y2="1086.7" stroke="#222" stroke-width="1.9"/><line x1="1306.0" y1="1065.5" x2="1306.0" y2="1086.7" stroke="#555" stroke-width="1.8"/><line x1="1546.6" y1="1065.5" x2="1546.6" y2="1086.7" stroke="#222" stroke-width="1.9"/><line x1="1787.5" y1="1065.5" x2="1787.5" y2="1086.5" stroke="#777" stroke-width="1.6"/><line x1="2030.2" y1="1065.5" x2="2030.2" y2="1086.5" stroke="#777" stroke-width="1.6"/><line x1="2270.6" y1="1065.5" x2="2270.6" y2="1086.7" stroke="#222" stroke-width="1.9"/><circle cx="713" cy="441.7" r="10.6" fill="#000"/><circle cx="1015.2" cy="682.5" r="10.6" fill="#000"/><circle cx="1261.8" cy="652.9" r="10.6" fill="#000"/><circle cx="1401.4" cy="700.1" r="10.6" fill="#000"/><circle cx="1609.4" cy="706.6" r="10.6" fill="#000"/><circle cx="2262.7" cy="94.7" r="10.6" fill="#000"/><text transform="translate(151.0,1141.0) scale(1.005,1)" text-anchor="middle" style="font-family:'Liberation Serif',serif;font-weight:bold;font-size:43.5px">2</text><text transform="translate(343.3,1141.0) scale(1.005,1)" text-anchor="middle" style="font-family:'Liberation Serif',serif;font-weight:bold;font-size:43.5px">10</text><text transform="translate(589.8,1141.0) scale(1.005,1)" text-anchor="middle" style="font-family:'Liberation Serif',serif;font-weight:bold;font-size:43.5px">20</text><text transform="translate(826.6,1141.0) scale(1.005,1)" text-anchor="middle" style="font-family:'Liberation Serif',serif;font-weight:bold;font-size:43.5px">30</text><text transform="translate(1073.9,1141.0) scale(1.005,1)" text-anchor="middle" style="font-family:'Liberation Serif',serif;font-weight:bold;font-size:43.5px">40</text><text transform="translate(1319.4,1141.0) scale(1.005,1)" text-anchor="middle" style="font-family:'Liberation Serif',serif;font-weight:bold;font-size:43.5px">50</text><text transform="translate(1545.2,1141.0) scale(1.005,1)" text-anchor="middle" style="font-family:'Liberation Serif',serif;font-weight:bold;font-size:43.5px">60</text><text transform="translate(1791.3,1141.0) scale(1.005,1)" text-anchor="middle" style="font-family:'Liberation Serif',serif;font-weight:bold;font-size:43.5px">70</text><text transform="translate(2038,1141.0) scale(1.005,1)" text-anchor="middle" style="font-family:'Liberation Serif',serif;font-weight:bold;font-size:43.5px">80</text><text transform="translate(2284.5,1141.0) scale(1.005,1)" text-anchor="middle" style="font-family:'Liberation Serif',serif;font-weight:bold;font-size:43.5px">90</text><text x="229.2" y="176.8" style="font-family:'Liberation Sans',sans-serif;font-size:56.6px">(</text><text transform="translate(248.1,176.8) scale(1,1.045)" style="font-family:'Liberation Sans',sans-serif;font-size:56.6px">A</text><text x="287.4" y="176.8" style="font-family:'Liberation Sans',sans-serif;font-size:56.6px">)</text><text x="229.2" y="616.3" style="font-family:'Liberation Sans',sans-serif;font-size:56.6px">(</text><text transform="translate(247.6,616.3) scale(1,1.045)" style="font-family:'Liberation Sans',sans-serif;font-size:56.6px">B</text><text x="287.4" y="616.3" style="font-family:'Liberation Sans',sans-serif;font-size:56.6px">)</text><text x="229.2" y="899.8" style="font-family:'Liberation Sans',sans-serif;font-size:56.6px">(</text><text transform="translate(248.1,899.8) scale(1,1.045)" style="font-family:'Liberation Sans',sans-serif;font-size:56.6px">C</text><text x="291.1" y="899.8" style="font-family:'Liberation Sans',sans-serif;font-size:56.6px">)</text><text transform="translate(2301.8,109.3) scale(0.96,1)" style="font-family:'Liberation Serif',serif;font-weight:bold;font-size:56px">TiO</text><text x="2395.2" y="112.8" style="font-family:'Liberation Serif',serif;font-size:34px">2</text><text transform="translate(1179.6,1253) scale(0.962,1)" style="font-family:'Liberation Serif',serif;font-weight:bold;font-size:69px">2θ</text><text transform="translate(1264.0,1253) scale(0.962,0.95)" style="font-family:'Liberation Serif',serif;font-weight:bold;font-size:69px">(degree)</text><text transform="translate(76.3,801.8) rotate(-90) scale(0.9655,1)" style="font-family:'Liberation Serif',serif;font-weight:bold;font-size:68px">Intensity (a.u.)</text></svg>
</body></html>
